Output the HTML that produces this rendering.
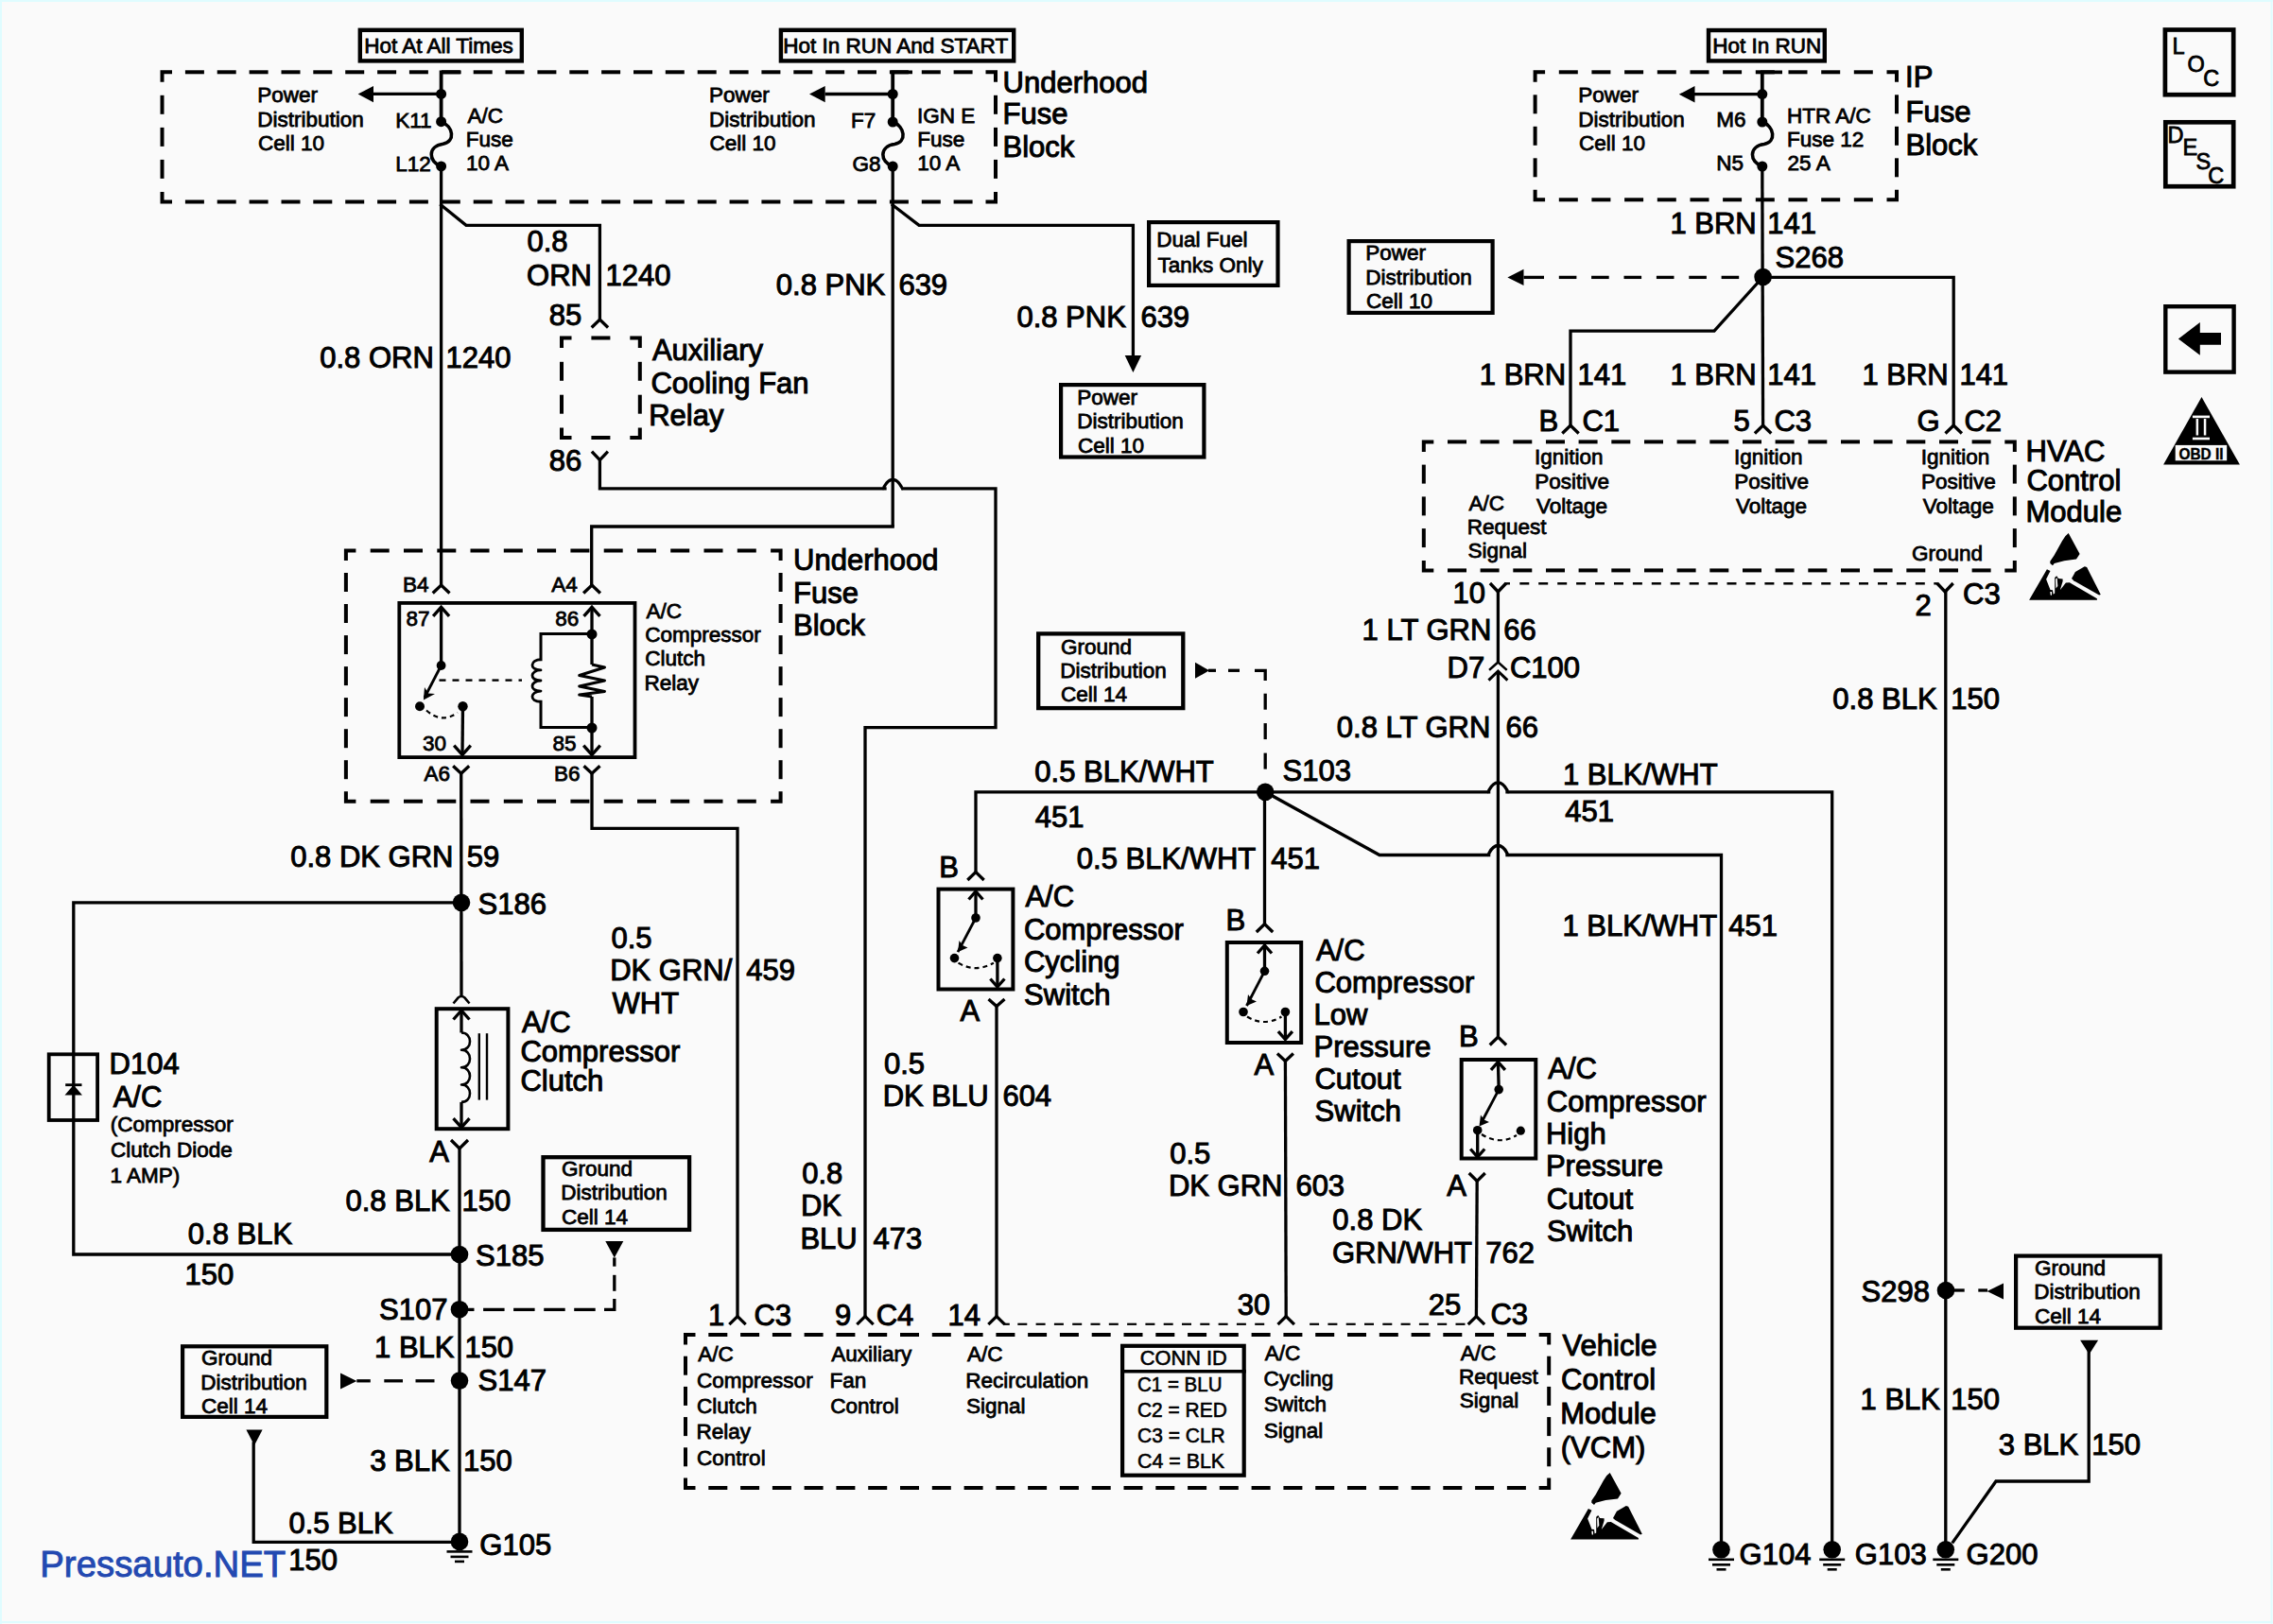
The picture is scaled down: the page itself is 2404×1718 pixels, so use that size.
<!DOCTYPE html>
<html><head><meta charset="utf-8"><style>
html,body{margin:0;padding:0;background:#fafafa;}
svg{display:block;}
</style></head><body>
<svg width="2404" height="1718" viewBox="0 0 2404 1718">
<rect x="0" y="0" width="2404" height="1718" fill="#fafafa"/>
<g stroke="#000" fill="#000" font-family="'Liberation Sans', sans-serif">
<g>
<rect x="380.8" y="31.8" width="171" height="32.6" fill="none" stroke-width="4.4"/>
<text x="385.2" y="56" font-size="22.5" text-anchor="start" stroke="#000" stroke-width="0.8">Hot At All Times</text>
<rect x="825.9" y="31.8" width="246.3" height="32.6" fill="none" stroke-width="4.4"/>
<text x="828.2" y="56" font-size="22.5" text-anchor="start" stroke="#000" stroke-width="0.8">Hot In RUN And START</text>
<rect x="1807" y="32" width="122.8" height="32.4" fill="none" stroke-width="4.4"/>
<text x="1811.2" y="56" font-size="22.5" text-anchor="start" stroke="#000" stroke-width="0.8">Hot In RUN</text>
<polyline points="182,76.3 171.5,76.3 171.5,86.8" fill="none" stroke-width="4" stroke-linecap="butt" stroke-linejoin="miter"/>
<polyline points="1042.5,76.3 1053,76.3 1053,86.8" fill="none" stroke-width="4" stroke-linecap="butt" stroke-linejoin="miter"/>
<polyline points="1042.5,213.5 1053,213.5 1053,203" fill="none" stroke-width="4" stroke-linecap="butt" stroke-linejoin="miter"/>
<polyline points="182,213.5 171.5,213.5 171.5,203" fill="none" stroke-width="4" stroke-linecap="butt" stroke-linejoin="miter"/>
<line x1="195.9" y1="76.3" x2="215.9" y2="76.3" stroke-width="4" stroke-linecap="butt"/>
<line x1="229.7" y1="76.3" x2="249.7" y2="76.3" stroke-width="4" stroke-linecap="butt"/>
<line x1="263.6" y1="76.3" x2="283.6" y2="76.3" stroke-width="4" stroke-linecap="butt"/>
<line x1="297.5" y1="76.3" x2="317.5" y2="76.3" stroke-width="4" stroke-linecap="butt"/>
<line x1="331.3" y1="76.3" x2="351.3" y2="76.3" stroke-width="4" stroke-linecap="butt"/>
<line x1="365.2" y1="76.3" x2="385.2" y2="76.3" stroke-width="4" stroke-linecap="butt"/>
<line x1="399.1" y1="76.3" x2="419.1" y2="76.3" stroke-width="4" stroke-linecap="butt"/>
<line x1="432.9" y1="76.3" x2="452.9" y2="76.3" stroke-width="4" stroke-linecap="butt"/>
<line x1="466.8" y1="76.3" x2="486.8" y2="76.3" stroke-width="4" stroke-linecap="butt"/>
<line x1="500.7" y1="76.3" x2="520.7" y2="76.3" stroke-width="4" stroke-linecap="butt"/>
<line x1="534.5" y1="76.3" x2="554.5" y2="76.3" stroke-width="4" stroke-linecap="butt"/>
<line x1="568.4" y1="76.3" x2="588.4" y2="76.3" stroke-width="4" stroke-linecap="butt"/>
<line x1="602.3" y1="76.3" x2="622.3" y2="76.3" stroke-width="4" stroke-linecap="butt"/>
<line x1="636.1" y1="76.3" x2="656.1" y2="76.3" stroke-width="4" stroke-linecap="butt"/>
<line x1="670" y1="76.3" x2="690" y2="76.3" stroke-width="4" stroke-linecap="butt"/>
<line x1="703.8" y1="76.3" x2="723.8" y2="76.3" stroke-width="4" stroke-linecap="butt"/>
<line x1="737.7" y1="76.3" x2="757.7" y2="76.3" stroke-width="4" stroke-linecap="butt"/>
<line x1="771.6" y1="76.3" x2="791.6" y2="76.3" stroke-width="4" stroke-linecap="butt"/>
<line x1="805.4" y1="76.3" x2="825.4" y2="76.3" stroke-width="4" stroke-linecap="butt"/>
<line x1="839.3" y1="76.3" x2="859.3" y2="76.3" stroke-width="4" stroke-linecap="butt"/>
<line x1="873.2" y1="76.3" x2="893.2" y2="76.3" stroke-width="4" stroke-linecap="butt"/>
<line x1="907" y1="76.3" x2="927" y2="76.3" stroke-width="4" stroke-linecap="butt"/>
<line x1="940.9" y1="76.3" x2="960.9" y2="76.3" stroke-width="4" stroke-linecap="butt"/>
<line x1="974.8" y1="76.3" x2="994.8" y2="76.3" stroke-width="4" stroke-linecap="butt"/>
<line x1="1008.6" y1="76.3" x2="1028.6" y2="76.3" stroke-width="4" stroke-linecap="butt"/>
<line x1="195.9" y1="213.5" x2="215.9" y2="213.5" stroke-width="4" stroke-linecap="butt"/>
<line x1="229.7" y1="213.5" x2="249.7" y2="213.5" stroke-width="4" stroke-linecap="butt"/>
<line x1="263.6" y1="213.5" x2="283.6" y2="213.5" stroke-width="4" stroke-linecap="butt"/>
<line x1="297.5" y1="213.5" x2="317.5" y2="213.5" stroke-width="4" stroke-linecap="butt"/>
<line x1="331.3" y1="213.5" x2="351.3" y2="213.5" stroke-width="4" stroke-linecap="butt"/>
<line x1="365.2" y1="213.5" x2="385.2" y2="213.5" stroke-width="4" stroke-linecap="butt"/>
<line x1="399.1" y1="213.5" x2="419.1" y2="213.5" stroke-width="4" stroke-linecap="butt"/>
<line x1="432.9" y1="213.5" x2="452.9" y2="213.5" stroke-width="4" stroke-linecap="butt"/>
<line x1="466.8" y1="213.5" x2="486.8" y2="213.5" stroke-width="4" stroke-linecap="butt"/>
<line x1="500.7" y1="213.5" x2="520.7" y2="213.5" stroke-width="4" stroke-linecap="butt"/>
<line x1="534.5" y1="213.5" x2="554.5" y2="213.5" stroke-width="4" stroke-linecap="butt"/>
<line x1="568.4" y1="213.5" x2="588.4" y2="213.5" stroke-width="4" stroke-linecap="butt"/>
<line x1="602.3" y1="213.5" x2="622.3" y2="213.5" stroke-width="4" stroke-linecap="butt"/>
<line x1="636.1" y1="213.5" x2="656.1" y2="213.5" stroke-width="4" stroke-linecap="butt"/>
<line x1="670" y1="213.5" x2="690" y2="213.5" stroke-width="4" stroke-linecap="butt"/>
<line x1="703.8" y1="213.5" x2="723.8" y2="213.5" stroke-width="4" stroke-linecap="butt"/>
<line x1="737.7" y1="213.5" x2="757.7" y2="213.5" stroke-width="4" stroke-linecap="butt"/>
<line x1="771.6" y1="213.5" x2="791.6" y2="213.5" stroke-width="4" stroke-linecap="butt"/>
<line x1="805.4" y1="213.5" x2="825.4" y2="213.5" stroke-width="4" stroke-linecap="butt"/>
<line x1="839.3" y1="213.5" x2="859.3" y2="213.5" stroke-width="4" stroke-linecap="butt"/>
<line x1="873.2" y1="213.5" x2="893.2" y2="213.5" stroke-width="4" stroke-linecap="butt"/>
<line x1="907" y1="213.5" x2="927" y2="213.5" stroke-width="4" stroke-linecap="butt"/>
<line x1="940.9" y1="213.5" x2="960.9" y2="213.5" stroke-width="4" stroke-linecap="butt"/>
<line x1="974.8" y1="213.5" x2="994.8" y2="213.5" stroke-width="4" stroke-linecap="butt"/>
<line x1="1008.6" y1="213.5" x2="1028.6" y2="213.5" stroke-width="4" stroke-linecap="butt"/>
<line x1="171.5" y1="100.8" x2="171.5" y2="120.8" stroke-width="4" stroke-linecap="butt"/>
<line x1="171.5" y1="134.9" x2="171.5" y2="154.9" stroke-width="4" stroke-linecap="butt"/>
<line x1="171.5" y1="168.9" x2="171.5" y2="188.9" stroke-width="4" stroke-linecap="butt"/>
<line x1="1053" y1="100.8" x2="1053" y2="120.8" stroke-width="4" stroke-linecap="butt"/>
<line x1="1053" y1="134.9" x2="1053" y2="154.9" stroke-width="4" stroke-linecap="butt"/>
<line x1="1053" y1="168.9" x2="1053" y2="188.9" stroke-width="4" stroke-linecap="butt"/>
<polyline points="487.6,76.3 466.6,76.3 466.6,128.7" fill="none" stroke-width="3.8" stroke-linecap="butt" stroke-linejoin="miter"/>
<line x1="395" y1="99.4" x2="466.6" y2="99.4" stroke-width="3.3" stroke-linecap="butt"/>
<path d="M378.6,99.6 L395,90.9 L395,108.3 Z" fill="#000" stroke="none"/>
<circle cx="466.6" cy="99.4" r="5.5" fill="#000" stroke="none"/>
<circle cx="466.6" cy="128.7" r="5.5" fill="#000" stroke="none"/>
<path d="M466.6,128.7 C479.7,133.4 481.8,149.9 468.6,152.3 C452.1,154.7 452.8,171.2 466.6,175.9" fill="none" stroke-width="3.6" stroke-linecap="butt" stroke-linejoin="round"/>
<circle cx="466.6" cy="175.9" r="5.5" fill="#000" stroke="none"/>
<text x="272.2" y="108" font-size="22.5" text-anchor="start" stroke="#000" stroke-width="0.8">Power</text>
<text x="272.2" y="133.6" font-size="22.5" text-anchor="start" stroke="#000" stroke-width="0.8">Distribution</text>
<text x="272.9" y="159.2" font-size="22.5" text-anchor="start" stroke="#000" stroke-width="0.8">Cell 10</text>
<text x="418.2" y="134.5" font-size="22.5" text-anchor="start" stroke="#000" stroke-width="0.8">K11</text>
<text x="418.2" y="180.5" font-size="22.5" text-anchor="start" stroke="#000" stroke-width="0.8">L12</text>
<text x="494.6" y="129.7" font-size="22.5" text-anchor="start" stroke="#000" stroke-width="0.8">A/C</text>
<text x="492.8" y="154.9" font-size="22.5" text-anchor="start" stroke="#000" stroke-width="0.8">Fuse</text>
<text x="492.9" y="180.1" font-size="22.5" text-anchor="start" stroke="#000" stroke-width="0.8">10 A</text>
<polyline points="965,76.3 944.2,76.3 944.2,129" fill="none" stroke-width="3.8" stroke-linecap="butt" stroke-linejoin="miter"/>
<line x1="872.7" y1="99.5" x2="944.2" y2="99.5" stroke-width="3.3" stroke-linecap="butt"/>
<path d="M856,99.6 L872.7,90.9 L872.7,108.3 Z" fill="#000" stroke="none"/>
<circle cx="944.2" cy="99.5" r="5.5" fill="#000" stroke="none"/>
<circle cx="944.2" cy="129" r="5.5" fill="#000" stroke="none"/>
<path d="M944.2,129 C957.2,133.7 959.4,150.2 946.2,152.5 C929.7,154.8 930.4,171.3 944.2,176" fill="none" stroke-width="3.6" stroke-linecap="butt" stroke-linejoin="round"/>
<circle cx="944.2" cy="176" r="5.5" fill="#000" stroke="none"/>
<text x="749.9" y="108" font-size="22.5" text-anchor="start" stroke="#000" stroke-width="0.8">Power</text>
<text x="749.9" y="133.6" font-size="22.5" text-anchor="start" stroke="#000" stroke-width="0.8">Distribution</text>
<text x="750.6" y="159.2" font-size="22.5" text-anchor="start" stroke="#000" stroke-width="0.8">Cell 10</text>
<text x="900" y="134.5" font-size="22.5" text-anchor="start" stroke="#000" stroke-width="0.8">F7</text>
<text x="901.5" y="180.5" font-size="22.5" text-anchor="start" stroke="#000" stroke-width="0.8">G8</text>
<text x="969.9" y="130" font-size="22.5" text-anchor="start" stroke="#000" stroke-width="0.8">IGN E</text>
<text x="970.2" y="155" font-size="22.5" text-anchor="start" stroke="#000" stroke-width="0.8">Fuse</text>
<text x="970.3" y="180" font-size="22.5" text-anchor="start" stroke="#000" stroke-width="0.8">10 A</text>
<text x="1060.6" y="98" font-size="31" text-anchor="start" stroke="#000" stroke-width="1.0">Underhood</text>
<text x="1060.5" y="131" font-size="31" text-anchor="start" stroke="#000" stroke-width="1.0">Fuse</text>
<text x="1060.5" y="166" font-size="31" text-anchor="start" stroke="#000" stroke-width="1.0">Block</text>
<polyline points="1634.1,76.3 1623.6,76.3 1623.6,86.8" fill="none" stroke-width="4" stroke-linecap="butt" stroke-linejoin="miter"/>
<polyline points="1995.5,76.3 2006,76.3 2006,86.8" fill="none" stroke-width="4" stroke-linecap="butt" stroke-linejoin="miter"/>
<polyline points="1995.5,211.3 2006,211.3 2006,200.8" fill="none" stroke-width="4" stroke-linecap="butt" stroke-linejoin="miter"/>
<polyline points="1634.1,211.3 1623.6,211.3 1623.6,200.8" fill="none" stroke-width="4" stroke-linecap="butt" stroke-linejoin="miter"/>
<line x1="1648.8" y1="76.3" x2="1668.8" y2="76.3" stroke-width="4" stroke-linecap="butt"/>
<line x1="1683.4" y1="76.3" x2="1703.4" y2="76.3" stroke-width="4" stroke-linecap="butt"/>
<line x1="1718.1" y1="76.3" x2="1738.1" y2="76.3" stroke-width="4" stroke-linecap="butt"/>
<line x1="1752.8" y1="76.3" x2="1772.8" y2="76.3" stroke-width="4" stroke-linecap="butt"/>
<line x1="1787.5" y1="76.3" x2="1807.5" y2="76.3" stroke-width="4" stroke-linecap="butt"/>
<line x1="1822.1" y1="76.3" x2="1842.1" y2="76.3" stroke-width="4" stroke-linecap="butt"/>
<line x1="1856.8" y1="76.3" x2="1876.8" y2="76.3" stroke-width="4" stroke-linecap="butt"/>
<line x1="1891.5" y1="76.3" x2="1911.5" y2="76.3" stroke-width="4" stroke-linecap="butt"/>
<line x1="1926.2" y1="76.3" x2="1946.2" y2="76.3" stroke-width="4" stroke-linecap="butt"/>
<line x1="1960.8" y1="76.3" x2="1980.8" y2="76.3" stroke-width="4" stroke-linecap="butt"/>
<line x1="1648.8" y1="211.3" x2="1668.8" y2="211.3" stroke-width="4" stroke-linecap="butt"/>
<line x1="1683.4" y1="211.3" x2="1703.4" y2="211.3" stroke-width="4" stroke-linecap="butt"/>
<line x1="1718.1" y1="211.3" x2="1738.1" y2="211.3" stroke-width="4" stroke-linecap="butt"/>
<line x1="1752.8" y1="211.3" x2="1772.8" y2="211.3" stroke-width="4" stroke-linecap="butt"/>
<line x1="1787.5" y1="211.3" x2="1807.5" y2="211.3" stroke-width="4" stroke-linecap="butt"/>
<line x1="1822.1" y1="211.3" x2="1842.1" y2="211.3" stroke-width="4" stroke-linecap="butt"/>
<line x1="1856.8" y1="211.3" x2="1876.8" y2="211.3" stroke-width="4" stroke-linecap="butt"/>
<line x1="1891.5" y1="211.3" x2="1911.5" y2="211.3" stroke-width="4" stroke-linecap="butt"/>
<line x1="1926.2" y1="211.3" x2="1946.2" y2="211.3" stroke-width="4" stroke-linecap="butt"/>
<line x1="1960.8" y1="211.3" x2="1980.8" y2="211.3" stroke-width="4" stroke-linecap="butt"/>
<line x1="1623.6" y1="100.3" x2="1623.6" y2="120.3" stroke-width="4" stroke-linecap="butt"/>
<line x1="1623.6" y1="133.8" x2="1623.6" y2="153.8" stroke-width="4" stroke-linecap="butt"/>
<line x1="1623.6" y1="167.3" x2="1623.6" y2="187.3" stroke-width="4" stroke-linecap="butt"/>
<line x1="2006" y1="100.3" x2="2006" y2="120.3" stroke-width="4" stroke-linecap="butt"/>
<line x1="2006" y1="133.8" x2="2006" y2="153.8" stroke-width="4" stroke-linecap="butt"/>
<line x1="2006" y1="167.3" x2="2006" y2="187.3" stroke-width="4" stroke-linecap="butt"/>
<polyline points="1885,76.3 1863.8,76.3 1863.8,129" fill="none" stroke-width="3.8" stroke-linecap="butt" stroke-linejoin="miter"/>
<line x1="1792" y1="99.6" x2="1863.8" y2="99.6" stroke-width="3.3" stroke-linecap="butt"/>
<path d="M1775.8,99.8 L1792.5,91.1 L1792.5,108.5 Z" fill="#000" stroke="none"/>
<circle cx="1863.8" cy="99.6" r="5.5" fill="#000" stroke="none"/>
<circle cx="1863.8" cy="129" r="5.5" fill="#000" stroke="none"/>
<path d="M1863.8,129 C1876.8,133.7 1879,150.2 1865.8,152.5 C1849.3,154.8 1850,171.3 1863.8,176" fill="none" stroke-width="3.6" stroke-linecap="butt" stroke-linejoin="round"/>
<circle cx="1863.8" cy="176" r="5.5" fill="#000" stroke="none"/>
<text x="1669.2" y="108" font-size="22.5" text-anchor="start" stroke="#000" stroke-width="0.8">Power</text>
<text x="1669.2" y="133.6" font-size="22.5" text-anchor="start" stroke="#000" stroke-width="0.8">Distribution</text>
<text x="1669.9" y="159.2" font-size="22.5" text-anchor="start" stroke="#000" stroke-width="0.8">Cell 10</text>
<text x="1815.2" y="134" font-size="22.5" text-anchor="start" stroke="#000" stroke-width="0.8">M6</text>
<text x="1815.2" y="180" font-size="22.5" text-anchor="start" stroke="#000" stroke-width="0.8">N5</text>
<text x="1889.9" y="130" font-size="22.5" text-anchor="start" stroke="#000" stroke-width="0.8">HTR A/C</text>
<text x="1889.9" y="155" font-size="22.5" text-anchor="start" stroke="#000" stroke-width="0.8">Fuse 12</text>
<text x="1890.6" y="180" font-size="22.5" text-anchor="start" stroke="#000" stroke-width="0.8">25 A</text>
<text x="2015.1" y="91.7" font-size="31" text-anchor="start" stroke="#000" stroke-width="1.0">IP</text>
<text x="2015.5" y="129" font-size="31" text-anchor="start" stroke="#000" stroke-width="1.0">Fuse</text>
<text x="2015.5" y="164" font-size="31" text-anchor="start" stroke="#000" stroke-width="1.0">Block</text>
<rect x="2289.9" y="31.5" width="72.3" height="68.7" fill="none" stroke-width="4.7"/>
<text x="2297.6" y="56.5" font-size="23.5" text-anchor="start" stroke="#000" stroke-width="0.8">L</text>
<text x="2313.4" y="75.6" font-size="23.5" text-anchor="start" stroke="#000" stroke-width="0.8">O</text>
<text x="2330.3" y="90.8" font-size="23.5" text-anchor="start" stroke="#000" stroke-width="0.8">C</text>
<rect x="2290.3" y="129.3" width="71.9" height="67.9" fill="none" stroke-width="4.7"/>
<text x="2292.6" y="150.8" font-size="23.5" text-anchor="start" stroke="#000" stroke-width="0.8">D</text>
<text x="2308.6" y="163.7" font-size="23.5" text-anchor="start" stroke="#000" stroke-width="0.8">E</text>
<text x="2322.4" y="178.6" font-size="23.5" text-anchor="start" stroke="#000" stroke-width="0.8">S</text>
<text x="2335.3" y="194.4" font-size="23.5" text-anchor="start" stroke="#000" stroke-width="0.8">C</text>
<rect x="2290.3" y="324.2" width="72.3" height="69.4" fill="none" stroke-width="4.4"/>
<path d="M2303.9,358.6 L2326.8,341 L2326.8,352.1 L2349,352.1 L2349,364.8 L2326.8,364.8 L2326.8,375.8 Z" fill="#000" stroke="none"/>
<path d="M2328.5,420 L2368.9,491.4 L2288.1,491.4 Z" fill="#000" stroke="none"/>
<g fill="#fafafa" stroke="none"><rect x="2318.9" y="439.6" width="18.1" height="2.6"/><rect x="2318.9" y="462.7" width="18.1" height="2.6"/><rect x="2322.6" y="443" width="2.5" height="17.5"/><rect x="2330.8" y="443" width="2.5" height="17.5"/><rect x="2300.7" y="470.9" width="54.5" height="16.4"/></g>
<text x="2328" y="485.5" font-size="16.5" text-anchor="middle" font-weight="bold" stroke="#000" stroke-width="0.4" textLength="47" lengthAdjust="spacingAndGlyphs">OBD II</text>
<line x1="466.6" y1="175.9" x2="466.6" y2="619" stroke-width="3.3" stroke-linecap="butt"/>
<polyline points="466.6,217 493,238.3 634.4,238.3 634.4,338" fill="none" stroke-width="3.3" stroke-linecap="square" stroke-linejoin="miter"/>
<text x="557.4" y="266" font-size="31" text-anchor="start" stroke="#000" stroke-width="1.0">0.8</text>
<text x="557.1" y="302" font-size="31" text-anchor="start" stroke="#000" stroke-width="1.0">ORN</text>
<text x="640.6" y="302" font-size="31" text-anchor="start" stroke="#000" stroke-width="1.0">1240</text>
<text x="580.7" y="344" font-size="31" text-anchor="start" stroke="#000" stroke-width="1.0">85</text>
<polyline points="625.7,346.5 634.4,338 643.1,346.5" fill="none" stroke-width="3.3" stroke-linecap="butt" stroke-linejoin="miter"/>
<text x="338.2" y="389" font-size="31" text-anchor="start" stroke="#000" stroke-width="1.0">0.8 ORN</text>
<text x="471.6" y="389" font-size="31" text-anchor="start" stroke="#000" stroke-width="1.0">1240</text>
<polyline points="604.5,357.5 594,357.5 594,368" fill="none" stroke-width="4" stroke-linecap="butt" stroke-linejoin="miter"/>
<polyline points="666.3,357.5 676.8,357.5 676.8,368" fill="none" stroke-width="4" stroke-linecap="butt" stroke-linejoin="miter"/>
<polyline points="666.3,463 676.8,463 676.8,452.5" fill="none" stroke-width="4" stroke-linecap="butt" stroke-linejoin="miter"/>
<polyline points="604.5,463 594,463 594,452.5" fill="none" stroke-width="4" stroke-linecap="butt" stroke-linejoin="miter"/>
<line x1="625.4" y1="357.5" x2="645.4" y2="357.5" stroke-width="4" stroke-linecap="butt"/>
<line x1="625.4" y1="463" x2="645.4" y2="463" stroke-width="4" stroke-linecap="butt"/>
<line x1="594" y1="382.8" x2="594" y2="402.8" stroke-width="4" stroke-linecap="butt"/>
<line x1="594" y1="417.7" x2="594" y2="437.7" stroke-width="4" stroke-linecap="butt"/>
<line x1="676.8" y1="382.8" x2="676.8" y2="402.8" stroke-width="4" stroke-linecap="butt"/>
<line x1="676.8" y1="417.7" x2="676.8" y2="437.7" stroke-width="4" stroke-linecap="butt"/>
<text x="689.9" y="381" font-size="31" text-anchor="start" stroke="#000" stroke-width="1.0">Auxiliary</text>
<text x="688.4" y="415.7" font-size="31" text-anchor="start" stroke="#000" stroke-width="1.0">Cooling Fan</text>
<text x="686.2" y="449.9" font-size="31" text-anchor="start" stroke="#000" stroke-width="1.0">Relay</text>
<text x="580.7" y="497.5" font-size="31" text-anchor="start" stroke="#000" stroke-width="1.0">86</text>
<polyline points="625.9,477.7 634.4,486.7 642.9,477.7" fill="none" stroke-width="3.3" stroke-linecap="butt" stroke-linejoin="miter"/>
<polyline points="634.4,486.7 634.4,516.8 936,516.8" fill="none" stroke-width="3.3" stroke-linecap="square" stroke-linejoin="miter"/>
<path d="M933.7,516.8 C935.2,516.8 937,507.3 944.2,507.3 C951.4,507.3 953.2,516.8 954.7,516.8" fill="none" stroke-width="3.3" stroke-linecap="butt" stroke-linejoin="round"/>
<polyline points="954.8,516.8 1053,516.8 1053,769.7 915,769.7 915,1392.6" fill="none" stroke-width="3.3" stroke-linecap="square" stroke-linejoin="miter"/>
<line x1="944.2" y1="176" x2="944.2" y2="557" stroke-width="3.3" stroke-linecap="butt"/>
<polyline points="944.2,557 625.7,557 625.7,619" fill="none" stroke-width="3.3" stroke-linecap="square" stroke-linejoin="miter"/>
<polyline points="944.2,217 972,238.3 1198.4,238.3 1198.4,380" fill="none" stroke-width="3.3" stroke-linecap="square" stroke-linejoin="miter"/>
<path d="M1198.4,394 L1189.7,376 L1207.1,376 Z" fill="#000" stroke="none"/>
<text x="820.8" y="312.4" font-size="31" text-anchor="start" stroke="#000" stroke-width="1.0">0.8 PNK</text>
<text x="950.4" y="312.4" font-size="31" text-anchor="start" stroke="#000" stroke-width="1.0">639</text>
<text x="1075.4" y="345.5" font-size="31" text-anchor="start" stroke="#000" stroke-width="1.0">0.8 PNK</text>
<text x="1206.4" y="345.5" font-size="31" text-anchor="start" stroke="#000" stroke-width="1.0">639</text>
<rect x="1215.1" y="235.1" width="136.4" height="66.8" fill="none" stroke-width="4.2"/>
<text x="1223.2" y="261" font-size="22.5" text-anchor="start" stroke="#000" stroke-width="0.8">Dual Fuel</text>
<text x="1224.5" y="288" font-size="22.5" text-anchor="start" stroke="#000" stroke-width="0.8">Tanks Only</text>
<rect x="1122.1" y="407.1" width="151.3" height="76.4" fill="none" stroke-width="4.2"/>
<text x="1139.2" y="428" font-size="22.5" text-anchor="start" stroke="#000" stroke-width="0.8">Power</text>
<text x="1139.2" y="453.3" font-size="22.5" text-anchor="start" stroke="#000" stroke-width="0.8">Distribution</text>
<text x="1139.9" y="478.6" font-size="22.5" text-anchor="start" stroke="#000" stroke-width="0.8">Cell 10</text>
<line x1="1863.8" y1="176" x2="1864.6" y2="450" stroke-width="3.3" stroke-linecap="butt"/>
<text x="1766.4" y="247.2" font-size="31" text-anchor="start" stroke="#000" stroke-width="1.0">1 BRN</text>
<text x="1869.3" y="247.2" font-size="31" text-anchor="start" stroke="#000" stroke-width="1.0">141</text>
<text x="1877.5" y="283" font-size="31" text-anchor="start" stroke="#000" stroke-width="1.0">S268</text>
<circle cx="1864.6" cy="293" r="9.3" fill="#000" stroke="none"/>
<line x1="1611.5" y1="293.4" x2="1633" y2="293.4" stroke-width="3.3" stroke-linecap="butt"/>
<path d="M1594.4,293.4 L1611.5,284.7 L1611.5,302.1 Z" fill="#000" stroke="none"/>
<line x1="1648.8" y1="293.4" x2="1667.4" y2="293.4" stroke-width="3.3" stroke-linecap="butt"/>
<line x1="1683.1" y1="293.4" x2="1701.7" y2="293.4" stroke-width="3.3" stroke-linecap="butt"/>
<line x1="1717.5" y1="293.4" x2="1736.1" y2="293.4" stroke-width="3.3" stroke-linecap="butt"/>
<line x1="1751.9" y1="293.4" x2="1770.5" y2="293.4" stroke-width="3.3" stroke-linecap="butt"/>
<line x1="1786.3" y1="293.4" x2="1804.9" y2="293.4" stroke-width="3.3" stroke-linecap="butt"/>
<line x1="1820.6" y1="293.4" x2="1839.2" y2="293.4" stroke-width="3.3" stroke-linecap="butt"/>
<rect x="1426.6" y="255.1" width="152" height="75.8" fill="none" stroke-width="4.2"/>
<text x="1444.2" y="275" font-size="22.5" text-anchor="start" stroke="#000" stroke-width="0.8">Power</text>
<text x="1444.2" y="300.5" font-size="22.5" text-anchor="start" stroke="#000" stroke-width="0.8">Distribution</text>
<text x="1444.9" y="326" font-size="22.5" text-anchor="start" stroke="#000" stroke-width="0.8">Cell 10</text>
<polyline points="1864.6,293 1813,350.1 1661,350.1 1661,450" fill="none" stroke-width="3.3" stroke-linecap="square" stroke-linejoin="miter"/>
<polyline points="1864.6,293.4 2066.2,293.4 2066.2,450" fill="none" stroke-width="3.3" stroke-linecap="square" stroke-linejoin="miter"/>
<text x="1564.8" y="407.3" font-size="31" text-anchor="start" stroke="#000" stroke-width="1.0">1 BRN</text>
<text x="1668.6" y="407.3" font-size="31" text-anchor="start" stroke="#000" stroke-width="1.0">141</text>
<polyline points="1652.3,458.5 1661,450 1669.7,458.5" fill="none" stroke-width="3.3" stroke-linecap="butt" stroke-linejoin="miter"/>
<text x="1766.4" y="407.3" font-size="31" text-anchor="start" stroke="#000" stroke-width="1.0">1 BRN</text>
<text x="1869.3" y="407.3" font-size="31" text-anchor="start" stroke="#000" stroke-width="1.0">141</text>
<polyline points="1855.9,458.5 1864.6,450 1873.3,458.5" fill="none" stroke-width="3.3" stroke-linecap="butt" stroke-linejoin="miter"/>
<text x="1969.4" y="407.3" font-size="31" text-anchor="start" stroke="#000" stroke-width="1.0">1 BRN</text>
<text x="2072.4" y="407.3" font-size="31" text-anchor="start" stroke="#000" stroke-width="1.0">141</text>
<polyline points="2057.5,458.5 2066.2,450 2074.9,458.5" fill="none" stroke-width="3.3" stroke-linecap="butt" stroke-linejoin="miter"/>
<text x="1627.5" y="456" font-size="31" text-anchor="start" stroke="#000" stroke-width="1.0">B</text>
<text x="1673.4" y="456" font-size="31" text-anchor="start" stroke="#000" stroke-width="1.0">C1</text>
<text x="1833.4" y="456" font-size="31" text-anchor="start" stroke="#000" stroke-width="1.0">5</text>
<text x="1876.4" y="456" font-size="31" text-anchor="start" stroke="#000" stroke-width="1.0">C3</text>
<text x="2027.4" y="456" font-size="31" text-anchor="start" stroke="#000" stroke-width="1.0">G</text>
<text x="2077.4" y="456" font-size="31" text-anchor="start" stroke="#000" stroke-width="1.0">C2</text>
<polyline points="1516.3,467.4 1505.8,467.4 1505.8,477.9" fill="none" stroke-width="4" stroke-linecap="butt" stroke-linejoin="miter"/>
<polyline points="2120.3,467.4 2130.8,467.4 2130.8,477.9" fill="none" stroke-width="4" stroke-linecap="butt" stroke-linejoin="miter"/>
<polyline points="2120.3,603.4 2130.8,603.4 2130.8,592.9" fill="none" stroke-width="4" stroke-linecap="butt" stroke-linejoin="miter"/>
<polyline points="1516.3,603.4 1505.8,603.4 1505.8,592.9" fill="none" stroke-width="4" stroke-linecap="butt" stroke-linejoin="miter"/>
<line x1="1531" y1="467.4" x2="1551" y2="467.4" stroke-width="4" stroke-linecap="butt"/>
<line x1="1565.6" y1="467.4" x2="1585.6" y2="467.4" stroke-width="4" stroke-linecap="butt"/>
<line x1="1600.3" y1="467.4" x2="1620.3" y2="467.4" stroke-width="4" stroke-linecap="butt"/>
<line x1="1635" y1="467.4" x2="1655" y2="467.4" stroke-width="4" stroke-linecap="butt"/>
<line x1="1669.6" y1="467.4" x2="1689.6" y2="467.4" stroke-width="4" stroke-linecap="butt"/>
<line x1="1704.3" y1="467.4" x2="1724.3" y2="467.4" stroke-width="4" stroke-linecap="butt"/>
<line x1="1739" y1="467.4" x2="1759" y2="467.4" stroke-width="4" stroke-linecap="butt"/>
<line x1="1773.6" y1="467.4" x2="1793.6" y2="467.4" stroke-width="4" stroke-linecap="butt"/>
<line x1="1808.3" y1="467.4" x2="1828.3" y2="467.4" stroke-width="4" stroke-linecap="butt"/>
<line x1="1843" y1="467.4" x2="1863" y2="467.4" stroke-width="4" stroke-linecap="butt"/>
<line x1="1877.6" y1="467.4" x2="1897.6" y2="467.4" stroke-width="4" stroke-linecap="butt"/>
<line x1="1912.3" y1="467.4" x2="1932.3" y2="467.4" stroke-width="4" stroke-linecap="butt"/>
<line x1="1947" y1="467.4" x2="1967" y2="467.4" stroke-width="4" stroke-linecap="butt"/>
<line x1="1981.6" y1="467.4" x2="2001.6" y2="467.4" stroke-width="4" stroke-linecap="butt"/>
<line x1="2016.3" y1="467.4" x2="2036.3" y2="467.4" stroke-width="4" stroke-linecap="butt"/>
<line x1="2051" y1="467.4" x2="2071" y2="467.4" stroke-width="4" stroke-linecap="butt"/>
<line x1="2085.6" y1="467.4" x2="2105.6" y2="467.4" stroke-width="4" stroke-linecap="butt"/>
<line x1="1531" y1="603.4" x2="1551" y2="603.4" stroke-width="4" stroke-linecap="butt"/>
<line x1="1565.6" y1="603.4" x2="1585.6" y2="603.4" stroke-width="4" stroke-linecap="butt"/>
<line x1="1600.3" y1="603.4" x2="1620.3" y2="603.4" stroke-width="4" stroke-linecap="butt"/>
<line x1="1635" y1="603.4" x2="1655" y2="603.4" stroke-width="4" stroke-linecap="butt"/>
<line x1="1669.6" y1="603.4" x2="1689.6" y2="603.4" stroke-width="4" stroke-linecap="butt"/>
<line x1="1704.3" y1="603.4" x2="1724.3" y2="603.4" stroke-width="4" stroke-linecap="butt"/>
<line x1="1739" y1="603.4" x2="1759" y2="603.4" stroke-width="4" stroke-linecap="butt"/>
<line x1="1773.6" y1="603.4" x2="1793.6" y2="603.4" stroke-width="4" stroke-linecap="butt"/>
<line x1="1808.3" y1="603.4" x2="1828.3" y2="603.4" stroke-width="4" stroke-linecap="butt"/>
<line x1="1843" y1="603.4" x2="1863" y2="603.4" stroke-width="4" stroke-linecap="butt"/>
<line x1="1877.6" y1="603.4" x2="1897.6" y2="603.4" stroke-width="4" stroke-linecap="butt"/>
<line x1="1912.3" y1="603.4" x2="1932.3" y2="603.4" stroke-width="4" stroke-linecap="butt"/>
<line x1="1947" y1="603.4" x2="1967" y2="603.4" stroke-width="4" stroke-linecap="butt"/>
<line x1="1981.6" y1="603.4" x2="2001.6" y2="603.4" stroke-width="4" stroke-linecap="butt"/>
<line x1="2016.3" y1="603.4" x2="2036.3" y2="603.4" stroke-width="4" stroke-linecap="butt"/>
<line x1="2051" y1="603.4" x2="2071" y2="603.4" stroke-width="4" stroke-linecap="butt"/>
<line x1="2085.6" y1="603.4" x2="2105.6" y2="603.4" stroke-width="4" stroke-linecap="butt"/>
<line x1="1505.8" y1="491.6" x2="1505.8" y2="511.6" stroke-width="4" stroke-linecap="butt"/>
<line x1="1505.8" y1="525.4" x2="1505.8" y2="545.4" stroke-width="4" stroke-linecap="butt"/>
<line x1="1505.8" y1="559.1" x2="1505.8" y2="579.1" stroke-width="4" stroke-linecap="butt"/>
<line x1="2130.8" y1="491.6" x2="2130.8" y2="511.6" stroke-width="4" stroke-linecap="butt"/>
<line x1="2130.8" y1="525.4" x2="2130.8" y2="545.4" stroke-width="4" stroke-linecap="butt"/>
<line x1="2130.8" y1="559.1" x2="2130.8" y2="579.1" stroke-width="4" stroke-linecap="butt"/>
<text x="1622.9" y="491" font-size="22.5" text-anchor="start" stroke="#000" stroke-width="0.8">Ignition</text>
<text x="1623.2" y="516.8" font-size="22.5" text-anchor="start" stroke="#000" stroke-width="0.8">Positive</text>
<text x="1624.9" y="542.6" font-size="22.5" text-anchor="start" stroke="#000" stroke-width="0.8">Voltage</text>
<text x="1833.9" y="491" font-size="22.5" text-anchor="start" stroke="#000" stroke-width="0.8">Ignition</text>
<text x="1834.2" y="516.8" font-size="22.5" text-anchor="start" stroke="#000" stroke-width="0.8">Positive</text>
<text x="1835.9" y="542.6" font-size="22.5" text-anchor="start" stroke="#000" stroke-width="0.8">Voltage</text>
<text x="2031.8" y="491" font-size="22.5" text-anchor="start" stroke="#000" stroke-width="0.8">Ignition</text>
<text x="2032.1" y="516.8" font-size="22.5" text-anchor="start" stroke="#000" stroke-width="0.8">Positive</text>
<text x="2033.8" y="542.6" font-size="22.5" text-anchor="start" stroke="#000" stroke-width="0.8">Voltage</text>
<text x="1553.5" y="540" font-size="22.5" text-anchor="start" stroke="#000" stroke-width="0.8">A/C</text>
<text x="1551.7" y="565" font-size="22.5" text-anchor="start" stroke="#000" stroke-width="0.8">Request</text>
<text x="1552.5" y="590" font-size="22.5" text-anchor="start" stroke="#000" stroke-width="0.8">Signal</text>
<text x="2021.9" y="592.6" font-size="22.5" text-anchor="start" stroke="#000" stroke-width="0.8">Ground</text>
<text x="2142.5" y="488" font-size="31" text-anchor="start" stroke="#000" stroke-width="1.0">HVAC</text>
<text x="2143.4" y="519" font-size="31" text-anchor="start" stroke="#000" stroke-width="1.0">Control</text>
<text x="2142.5" y="552" font-size="31" text-anchor="start" stroke="#000" stroke-width="1.0">Module</text>
<polyline points="1575.9,617 1584.4,626 1592.9,617" fill="none" stroke-width="3.3" stroke-linecap="butt" stroke-linejoin="miter"/>
<line x1="1592" y1="617.3" x2="1597" y2="617.3" stroke-width="2.4" stroke-linecap="butt"/>
<line x1="2045.3" y1="617.3" x2="2049.5" y2="617.3" stroke-width="2.4" stroke-linecap="butt"/>
<line x1="1607.3" y1="617.3" x2="1617.3" y2="617.3" stroke-width="2.5" stroke-linecap="butt"/>
<line x1="1627.2" y1="617.3" x2="1637.2" y2="617.3" stroke-width="2.5" stroke-linecap="butt"/>
<line x1="1647.2" y1="617.3" x2="1657.2" y2="617.3" stroke-width="2.5" stroke-linecap="butt"/>
<line x1="1667.1" y1="617.3" x2="1677.1" y2="617.3" stroke-width="2.5" stroke-linecap="butt"/>
<line x1="1687" y1="617.3" x2="1697" y2="617.3" stroke-width="2.5" stroke-linecap="butt"/>
<line x1="1707" y1="617.3" x2="1717" y2="617.3" stroke-width="2.5" stroke-linecap="butt"/>
<line x1="1726.9" y1="617.3" x2="1736.9" y2="617.3" stroke-width="2.5" stroke-linecap="butt"/>
<line x1="1746.8" y1="617.3" x2="1756.8" y2="617.3" stroke-width="2.5" stroke-linecap="butt"/>
<line x1="1766.7" y1="617.3" x2="1776.7" y2="617.3" stroke-width="2.5" stroke-linecap="butt"/>
<line x1="1786.7" y1="617.3" x2="1796.7" y2="617.3" stroke-width="2.5" stroke-linecap="butt"/>
<line x1="1806.6" y1="617.3" x2="1816.6" y2="617.3" stroke-width="2.5" stroke-linecap="butt"/>
<line x1="1826.5" y1="617.3" x2="1836.5" y2="617.3" stroke-width="2.5" stroke-linecap="butt"/>
<line x1="1846.5" y1="617.3" x2="1856.5" y2="617.3" stroke-width="2.5" stroke-linecap="butt"/>
<line x1="1866.4" y1="617.3" x2="1876.4" y2="617.3" stroke-width="2.5" stroke-linecap="butt"/>
<line x1="1886.3" y1="617.3" x2="1896.3" y2="617.3" stroke-width="2.5" stroke-linecap="butt"/>
<line x1="1906.2" y1="617.3" x2="1916.2" y2="617.3" stroke-width="2.5" stroke-linecap="butt"/>
<line x1="1926.2" y1="617.3" x2="1936.2" y2="617.3" stroke-width="2.5" stroke-linecap="butt"/>
<line x1="1946.1" y1="617.3" x2="1956.1" y2="617.3" stroke-width="2.5" stroke-linecap="butt"/>
<line x1="1966" y1="617.3" x2="1976" y2="617.3" stroke-width="2.5" stroke-linecap="butt"/>
<line x1="1986" y1="617.3" x2="1996" y2="617.3" stroke-width="2.5" stroke-linecap="butt"/>
<line x1="2005.9" y1="617.3" x2="2015.9" y2="617.3" stroke-width="2.5" stroke-linecap="butt"/>
<line x1="2025.8" y1="617.3" x2="2035.8" y2="617.3" stroke-width="2.5" stroke-linecap="butt"/>
<polyline points="2048.7,617 2057.2,626 2065.7,617" fill="none" stroke-width="3.3" stroke-linecap="butt" stroke-linejoin="miter"/>
<text x="1536.6" y="637.8" font-size="31" text-anchor="start" stroke="#000" stroke-width="1.0">10</text>
<text x="2025.4" y="650.6" font-size="31" text-anchor="start" stroke="#000" stroke-width="1.0">2</text>
<text x="2076.1" y="638.6" font-size="31" text-anchor="start" stroke="#000" stroke-width="1.0">C3</text>
<line x1="1584.4" y1="626" x2="1584.4" y2="700" stroke-width="3.3" stroke-linecap="butt"/>
<text x="1440.6" y="676.8" font-size="31" text-anchor="start" stroke="#000" stroke-width="1.0">1 LT GRN</text>
<text x="1590.2" y="677" font-size="31" text-anchor="start" stroke="#000" stroke-width="1.0">66</text>
<polyline points="1576,708 1584.4,700.5 1592.8,708" fill="none" stroke-width="2.5" stroke-linecap="square" stroke-linejoin="miter"/>
<polyline points="1575.5,718.6 1584.4,710 1593.3,718.6" fill="none" stroke-width="3" stroke-linecap="square" stroke-linejoin="miter"/>
<text x="1530.5" y="717.3" font-size="31" text-anchor="start" stroke="#000" stroke-width="1.0">D7</text>
<text x="1596.9" y="717" font-size="31" text-anchor="start" stroke="#000" stroke-width="1.0">C100</text>
<line x1="1584.4" y1="710" x2="1584.4" y2="1097" stroke-width="3.3" stroke-linecap="butt"/>
<text x="1413.8" y="780" font-size="31" text-anchor="start" stroke="#000" stroke-width="1.0">0.8 LT GRN</text>
<text x="1592.4" y="780" font-size="31" text-anchor="start" stroke="#000" stroke-width="1.0">66</text>
<line x1="2057.8" y1="626" x2="2057.8" y2="1639" stroke-width="3.3" stroke-linecap="butt"/>
<text x="1938.3" y="750" font-size="31" text-anchor="start" stroke="#000" stroke-width="1.0">0.8 BLK</text>
<text x="2063.3" y="750" font-size="31" text-anchor="start" stroke="#000" stroke-width="1.0">150</text>
<polyline points="376.4,582.5 365.9,582.5 365.9,593" fill="none" stroke-width="4" stroke-linecap="butt" stroke-linejoin="miter"/>
<polyline points="815.1,582.5 825.6,582.5 825.6,593" fill="none" stroke-width="4" stroke-linecap="butt" stroke-linejoin="miter"/>
<polyline points="815.1,847.7 825.6,847.7 825.6,837.2" fill="none" stroke-width="4" stroke-linecap="butt" stroke-linejoin="miter"/>
<polyline points="376.4,847.7 365.9,847.7 365.9,837.2" fill="none" stroke-width="4" stroke-linecap="butt" stroke-linejoin="miter"/>
<line x1="391.7" y1="582.5" x2="411.7" y2="582.5" stroke-width="4" stroke-linecap="butt"/>
<line x1="427" y1="582.5" x2="447" y2="582.5" stroke-width="4" stroke-linecap="butt"/>
<line x1="462.3" y1="582.5" x2="482.3" y2="582.5" stroke-width="4" stroke-linecap="butt"/>
<line x1="497.5" y1="582.5" x2="517.5" y2="582.5" stroke-width="4" stroke-linecap="butt"/>
<line x1="532.8" y1="582.5" x2="552.8" y2="582.5" stroke-width="4" stroke-linecap="butt"/>
<line x1="568.1" y1="582.5" x2="588.1" y2="582.5" stroke-width="4" stroke-linecap="butt"/>
<line x1="603.4" y1="582.5" x2="623.4" y2="582.5" stroke-width="4" stroke-linecap="butt"/>
<line x1="638.7" y1="582.5" x2="658.7" y2="582.5" stroke-width="4" stroke-linecap="butt"/>
<line x1="674" y1="582.5" x2="694" y2="582.5" stroke-width="4" stroke-linecap="butt"/>
<line x1="709.2" y1="582.5" x2="729.2" y2="582.5" stroke-width="4" stroke-linecap="butt"/>
<line x1="744.5" y1="582.5" x2="764.5" y2="582.5" stroke-width="4" stroke-linecap="butt"/>
<line x1="779.8" y1="582.5" x2="799.8" y2="582.5" stroke-width="4" stroke-linecap="butt"/>
<line x1="391.7" y1="847.7" x2="411.7" y2="847.7" stroke-width="4" stroke-linecap="butt"/>
<line x1="427" y1="847.7" x2="447" y2="847.7" stroke-width="4" stroke-linecap="butt"/>
<line x1="462.3" y1="847.7" x2="482.3" y2="847.7" stroke-width="4" stroke-linecap="butt"/>
<line x1="497.5" y1="847.7" x2="517.5" y2="847.7" stroke-width="4" stroke-linecap="butt"/>
<line x1="532.8" y1="847.7" x2="552.8" y2="847.7" stroke-width="4" stroke-linecap="butt"/>
<line x1="568.1" y1="847.7" x2="588.1" y2="847.7" stroke-width="4" stroke-linecap="butt"/>
<line x1="603.4" y1="847.7" x2="623.4" y2="847.7" stroke-width="4" stroke-linecap="butt"/>
<line x1="638.7" y1="847.7" x2="658.7" y2="847.7" stroke-width="4" stroke-linecap="butt"/>
<line x1="674" y1="847.7" x2="694" y2="847.7" stroke-width="4" stroke-linecap="butt"/>
<line x1="709.2" y1="847.7" x2="729.2" y2="847.7" stroke-width="4" stroke-linecap="butt"/>
<line x1="744.5" y1="847.7" x2="764.5" y2="847.7" stroke-width="4" stroke-linecap="butt"/>
<line x1="779.8" y1="847.7" x2="799.8" y2="847.7" stroke-width="4" stroke-linecap="butt"/>
<line x1="365.9" y1="606" x2="365.9" y2="626" stroke-width="4" stroke-linecap="butt"/>
<line x1="365.9" y1="639" x2="365.9" y2="659" stroke-width="4" stroke-linecap="butt"/>
<line x1="365.9" y1="672.1" x2="365.9" y2="692.1" stroke-width="4" stroke-linecap="butt"/>
<line x1="365.9" y1="705.1" x2="365.9" y2="725.1" stroke-width="4" stroke-linecap="butt"/>
<line x1="365.9" y1="738.1" x2="365.9" y2="758.1" stroke-width="4" stroke-linecap="butt"/>
<line x1="365.9" y1="771.2" x2="365.9" y2="791.2" stroke-width="4" stroke-linecap="butt"/>
<line x1="365.9" y1="804.2" x2="365.9" y2="824.2" stroke-width="4" stroke-linecap="butt"/>
<line x1="825.6" y1="606" x2="825.6" y2="626" stroke-width="4" stroke-linecap="butt"/>
<line x1="825.6" y1="639" x2="825.6" y2="659" stroke-width="4" stroke-linecap="butt"/>
<line x1="825.6" y1="672.1" x2="825.6" y2="692.1" stroke-width="4" stroke-linecap="butt"/>
<line x1="825.6" y1="705.1" x2="825.6" y2="725.1" stroke-width="4" stroke-linecap="butt"/>
<line x1="825.6" y1="738.1" x2="825.6" y2="758.1" stroke-width="4" stroke-linecap="butt"/>
<line x1="825.6" y1="771.2" x2="825.6" y2="791.2" stroke-width="4" stroke-linecap="butt"/>
<line x1="825.6" y1="804.2" x2="825.6" y2="824.2" stroke-width="4" stroke-linecap="butt"/>
<rect x="422.3" y="637.9" width="249.2" height="163.2" fill="none" stroke-width="3.8"/>
<text x="426.1" y="626.3" font-size="22.5" text-anchor="start" stroke="#000" stroke-width="0.8">B4</text>
<polyline points="457.7,627.5 466.6,619 475.5,627.5" fill="none" stroke-width="3.3" stroke-linecap="butt" stroke-linejoin="miter"/>
<text x="583.2" y="626.3" font-size="22.5" text-anchor="start" stroke="#000" stroke-width="0.8">A4</text>
<polyline points="617.1,627.5 626,619 634.9,627.5" fill="none" stroke-width="3.3" stroke-linecap="butt" stroke-linejoin="miter"/>
<text x="429.5" y="662" font-size="22.5" text-anchor="start" stroke="#000" stroke-width="0.8">87</text>
<text x="587.2" y="662" font-size="22.5" text-anchor="start" stroke="#000" stroke-width="0.8">86</text>
<text x="447" y="793.6" font-size="22.5" text-anchor="start" stroke="#000" stroke-width="0.8">30</text>
<text x="584.4" y="793.6" font-size="22.5" text-anchor="start" stroke="#000" stroke-width="0.8">85</text>
<text x="448.4" y="826.3" font-size="22.5" text-anchor="start" stroke="#000" stroke-width="0.8">A6</text>
<polyline points="479.2,810.2 487.7,818.2 496.2,810.2" fill="none" stroke-width="3.3" stroke-linecap="butt" stroke-linejoin="miter"/>
<text x="585.9" y="826.3" font-size="22.5" text-anchor="start" stroke="#000" stroke-width="0.8">B6</text>
<polyline points="617.5,810.2 626,818.2 634.5,810.2" fill="none" stroke-width="3.3" stroke-linecap="butt" stroke-linejoin="miter"/>
<line x1="466.6" y1="642.3" x2="466.6" y2="704" stroke-width="3.3" stroke-linecap="butt"/>
<polyline points="458.1,651.8 466.6,642.3 475.1,651.8" fill="none" stroke-width="3.3" stroke-linecap="butt" stroke-linejoin="miter"/>
<circle cx="466.6" cy="704" r="4.9" fill="#000" stroke="none"/>
<line x1="466.6" y1="704" x2="449" y2="738" stroke-width="2.8" stroke-linecap="butt"/>
<path d="M447.9,740.5 L449,727 L453,733.5 L460,734 Z" fill="#000" stroke="none"/>
<circle cx="444" cy="747.3" r="5" fill="#000" stroke="none"/>
<circle cx="489.5" cy="747.3" r="5.2" fill="#000" stroke="none"/>
<line x1="489.5" y1="747.3" x2="489" y2="798.6" stroke-width="3.3" stroke-linecap="butt"/>
<polyline points="480.2,788.6 489,798.6 497.8,788.6" fill="none" stroke-width="3.3" stroke-linecap="butt" stroke-linejoin="miter"/>
<path d="M451,751.5 Q467,766 484,754" fill="none" stroke-width="2.2" stroke-linecap="butt" stroke-linejoin="round" stroke-dasharray="5 4"/>
<line x1="464.5" y1="719.6" x2="471.5" y2="719.6" stroke-width="2.4" stroke-linecap="butt"/>
<line x1="478.5" y1="719.6" x2="485.5" y2="719.6" stroke-width="2.4" stroke-linecap="butt"/>
<line x1="492.5" y1="719.6" x2="499.5" y2="719.6" stroke-width="2.4" stroke-linecap="butt"/>
<line x1="506.5" y1="719.6" x2="513.5" y2="719.6" stroke-width="2.4" stroke-linecap="butt"/>
<line x1="520.5" y1="719.6" x2="527.5" y2="719.6" stroke-width="2.4" stroke-linecap="butt"/>
<line x1="534.5" y1="719.6" x2="541.5" y2="719.6" stroke-width="2.4" stroke-linecap="butt"/>
<line x1="548.5" y1="719.6" x2="552" y2="719.6" stroke-width="2.4" stroke-linecap="butt"/>
<polyline points="626,670.4 572,670.4 572,697.7" fill="none" stroke-width="3" stroke-linecap="square" stroke-linejoin="miter"/>
<polyline points="572,742.3 572,769.6 626,769.6" fill="none" stroke-width="3" stroke-linecap="square" stroke-linejoin="miter"/>
<path d="M572,697.7 C561,697.7 559,708.9 572,708.9 C561,708.9 559,720 572,720 C561,720 559,731.1 572,731.1 C561,731.2 559,742.3 572,742.3" fill="none" stroke-width="2.8" stroke-linecap="butt" stroke-linejoin="round"/>
<line x1="626" y1="642.3" x2="626" y2="703" stroke-width="3.3" stroke-linecap="butt"/>
<polyline points="617.5,651.8 626,642.3 634.5,651.8" fill="none" stroke-width="3.3" stroke-linecap="butt" stroke-linejoin="miter"/>
<path d="M626,703 L639.5,706 L612.7,714.5 L639.5,720 L612.7,726 L639.5,731.5 L612.7,735 L626,737" fill="none" stroke-width="3" stroke-linecap="butt" stroke-linejoin="round"/>
<line x1="626" y1="737" x2="626" y2="798.6" stroke-width="3.3" stroke-linecap="butt"/>
<polyline points="617.2,788.6 626,798.6 634.8,788.6" fill="none" stroke-width="3.3" stroke-linecap="butt" stroke-linejoin="miter"/>
<circle cx="626" cy="670.9" r="5.5" fill="#000" stroke="none"/>
<circle cx="626" cy="770" r="5.5" fill="#000" stroke="none"/>
<text x="683.4" y="653.7" font-size="22.5" text-anchor="start" stroke="#000" stroke-width="0.8">A/C</text>
<text x="682.3" y="679" font-size="22.5" text-anchor="start" stroke="#000" stroke-width="0.8">Compressor</text>
<text x="682.3" y="704.3" font-size="22.5" text-anchor="start" stroke="#000" stroke-width="0.8">Clutch</text>
<text x="681.6" y="729.6" font-size="22.5" text-anchor="start" stroke="#000" stroke-width="0.8">Relay</text>
<text x="839.1" y="603.4" font-size="31" text-anchor="start" stroke="#000" stroke-width="1.0">Underhood</text>
<text x="839" y="637.8" font-size="31" text-anchor="start" stroke="#000" stroke-width="1.0">Fuse</text>
<text x="839" y="671.5" font-size="31" text-anchor="start" stroke="#000" stroke-width="1.0">Block</text>
<line x1="487.7" y1="818" x2="488" y2="1053" stroke-width="3.3" stroke-linecap="butt"/>
<text x="307.2" y="917" font-size="31" text-anchor="start" stroke="#000" stroke-width="1.0">0.8 DK GRN</text>
<text x="493.8" y="917" font-size="31" text-anchor="start" stroke="#000" stroke-width="1.0">59</text>
<circle cx="488" cy="954.8" r="9.3" fill="#000" stroke="none"/>
<text x="505.6" y="967" font-size="31" text-anchor="start" stroke="#000" stroke-width="1.0">S186</text>
<polyline points="488,954.8 77.8,954.8 77.8,1327 486,1327" fill="none" stroke-width="3.3" stroke-linecap="square" stroke-linejoin="miter"/>
<path d="M479.5,1061.5 L484.2,1055.8 Q488,1052.2 491.8,1055.8 L496.5,1061.5" fill="none" stroke-width="2.6" stroke-linecap="butt" stroke-linejoin="round"/>
<rect x="461.7" y="1067.2" width="75.7" height="127" fill="none" stroke-width="4"/>
<line x1="488" y1="1069" x2="488" y2="1092.5" stroke-width="3.3" stroke-linecap="butt"/>
<polyline points="479.5,1078.5 488,1069 496.5,1078.5" fill="none" stroke-width="3.3" stroke-linecap="butt" stroke-linejoin="miter"/>
<path d="M488,1092.5 C500,1092.5 500,1110.8 488,1110.8 C500,1110.8 500,1129.2 488,1129.2 C500,1129.2 500,1147.5 488,1147.5 C500,1147.5 500,1165.9 488,1165.9" fill="none" stroke-width="2.6" stroke-linecap="butt" stroke-linejoin="round"/>
<line x1="488" y1="1165.9" x2="488" y2="1192.7" stroke-width="3.3" stroke-linecap="butt"/>
<polyline points="479.5,1183.2 488,1192.7 496.5,1183.2" fill="none" stroke-width="3.3" stroke-linecap="butt" stroke-linejoin="miter"/>
<line x1="506.8" y1="1093.2" x2="506.8" y2="1163.6" stroke-width="2.4" stroke-linecap="butt"/>
<line x1="515" y1="1093.2" x2="515" y2="1163.6" stroke-width="2.4" stroke-linecap="butt"/>
<text x="551.9" y="1091.7" font-size="31" text-anchor="start" stroke="#000" stroke-width="1.0">A/C</text>
<text x="550.4" y="1123.4" font-size="31" text-anchor="start" stroke="#000" stroke-width="1.0">Compressor</text>
<text x="550.4" y="1154" font-size="31" text-anchor="start" stroke="#000" stroke-width="1.0">Clutch</text>
<text x="454.2" y="1228.9" font-size="31" text-anchor="start" stroke="#000" stroke-width="1.0">A</text>
<polyline points="477,1206 486,1214.9 495,1206" fill="none" stroke-width="3.3" stroke-linecap="butt" stroke-linejoin="miter"/>
<line x1="486" y1="1214.9" x2="486" y2="1631" stroke-width="3.3" stroke-linecap="butt"/>
<rect x="51.7" y="1115.3" width="51.4" height="69.7" fill="none" stroke-width="3.8"/>
<line x1="69.2" y1="1147.7" x2="86.5" y2="1147.7" stroke-width="2.8" stroke-linecap="butt"/>
<path d="M77.8,1147.7 L68.5,1158.5 L87,1158.5 Z" fill="#000" stroke="none"/>
<text x="115.6" y="1136" font-size="31" text-anchor="start" stroke="#000" stroke-width="1.0">D104</text>
<text x="119.7" y="1170.6" font-size="31" text-anchor="start" stroke="#000" stroke-width="1.0">A/C</text>
<text x="116.7" y="1197.4" font-size="22.5" text-anchor="start" stroke="#000" stroke-width="0.8">(Compressor</text>
<text x="117" y="1224.2" font-size="22.5" text-anchor="start" stroke="#000" stroke-width="0.8">Clutch Diode</text>
<text x="116.4" y="1251" font-size="22.5" text-anchor="start" stroke="#000" stroke-width="0.8">1 AMP)</text>
<text x="365.5" y="1281" font-size="31" text-anchor="start" stroke="#000" stroke-width="1.0">0.8 BLK</text>
<text x="488.6" y="1281" font-size="31" text-anchor="start" stroke="#000" stroke-width="1.0">150</text>
<text x="198.8" y="1315.8" font-size="31" text-anchor="start" stroke="#000" stroke-width="1.0">0.8 BLK</text>
<text x="195.6" y="1359" font-size="31" text-anchor="start" stroke="#000" stroke-width="1.0">150</text>
<circle cx="486" cy="1327" r="9.3" fill="#000" stroke="none"/>
<text x="503" y="1338.8" font-size="31" text-anchor="start" stroke="#000" stroke-width="1.0">S185</text>
<circle cx="486" cy="1385.2" r="9.3" fill="#000" stroke="none"/>
<text x="401" y="1396" font-size="31" text-anchor="start" stroke="#000" stroke-width="1.0">S107</text>
<line x1="486" y1="1385.4" x2="501.5" y2="1385.4" stroke-width="3.3" stroke-linecap="butt"/>
<line x1="511.1" y1="1385.4" x2="533.6" y2="1385.4" stroke-width="3.3" stroke-linecap="butt"/>
<line x1="543.1" y1="1385.4" x2="565.6" y2="1385.4" stroke-width="3.3" stroke-linecap="butt"/>
<line x1="575.2" y1="1385.4" x2="597.7" y2="1385.4" stroke-width="3.3" stroke-linecap="butt"/>
<line x1="607.2" y1="1385.4" x2="629.7" y2="1385.4" stroke-width="3.3" stroke-linecap="butt"/>
<polyline points="639,1385.4 649.8,1385.4 649.8,1374" fill="none" stroke-width="3.3" stroke-linecap="butt" stroke-linejoin="miter"/>
<line x1="649.8" y1="1330.4" x2="649.8" y2="1339.7" stroke-width="3.3" stroke-linecap="butt"/>
<line x1="649.8" y1="1365.8" x2="649.8" y2="1348.8" stroke-width="3.3" stroke-linecap="butt"/>
<path d="M649.8,1330.4 L640.3,1313 L659.3,1313 Z" fill="#000" stroke="none"/>
<rect x="574.5" y="1224.2" width="154.6" height="76.7" fill="none" stroke-width="4.3"/>
<text x="593.9" y="1243.5" font-size="22.5" text-anchor="start" stroke="#000" stroke-width="0.8">Ground</text>
<text x="593.2" y="1269" font-size="22.5" text-anchor="start" stroke="#000" stroke-width="0.8">Distribution</text>
<text x="593.9" y="1294.5" font-size="22.5" text-anchor="start" stroke="#000" stroke-width="0.8">Cell 14</text>
<text x="396.1" y="1436.3" font-size="31" text-anchor="start" stroke="#000" stroke-width="1.0">1 BLK</text>
<text x="491.4" y="1436.3" font-size="31" text-anchor="start" stroke="#000" stroke-width="1.0">150</text>
<circle cx="486" cy="1460.6" r="9.3" fill="#000" stroke="none"/>
<text x="505.6" y="1470.7" font-size="31" text-anchor="start" stroke="#000" stroke-width="1.0">S147</text>
<path d="M377.3,1461 L360,1452.5 L360,1469.5 Z" fill="#000" stroke="none"/>
<line x1="377.3" y1="1460.8" x2="391.8" y2="1460.8" stroke-width="3.3" stroke-linecap="butt"/>
<line x1="406.3" y1="1460.8" x2="426" y2="1460.8" stroke-width="3.3" stroke-linecap="butt"/>
<line x1="439.5" y1="1460.8" x2="459.5" y2="1460.8" stroke-width="3.3" stroke-linecap="butt"/>
<rect x="193.1" y="1424.3" width="152.2" height="74.6" fill="none" stroke-width="4.2"/>
<text x="212.9" y="1444.2" font-size="22.5" text-anchor="start" stroke="#000" stroke-width="0.8">Ground</text>
<text x="212.2" y="1469.6" font-size="22.5" text-anchor="start" stroke="#000" stroke-width="0.8">Distribution</text>
<text x="212.9" y="1495" font-size="22.5" text-anchor="start" stroke="#000" stroke-width="0.8">Cell 14</text>
<path d="M269,1529 L260.4,1512.5 L277.6,1512.5 Z" fill="#000" stroke="none"/>
<polyline points="268.2,1527 268.2,1631.4 486,1631.4" fill="none" stroke-width="3.3" stroke-linecap="square" stroke-linejoin="miter"/>
<text x="391.2" y="1556" font-size="31" text-anchor="start" stroke="#000" stroke-width="1.0">3 BLK</text>
<text x="490.1" y="1556" font-size="31" text-anchor="start" stroke="#000" stroke-width="1.0">150</text>
<text x="305.4" y="1622" font-size="31" text-anchor="start" stroke="#000" stroke-width="1.0">0.5 BLK</text>
<circle cx="486" cy="1630.9" r="9.3" fill="#000" stroke="none"/>
<line x1="472.5" y1="1641.4" x2="499.5" y2="1641.4" stroke-width="2.6" stroke-linecap="butt"/>
<line x1="476.5" y1="1646.9" x2="495.5" y2="1646.9" stroke-width="2.6" stroke-linecap="butt"/>
<line x1="481" y1="1651.9" x2="491" y2="1651.9" stroke-width="2.6" stroke-linecap="butt"/>
<text x="507.3" y="1645.4" font-size="31" text-anchor="start" stroke="#000" stroke-width="1.0">G105</text>
<text x="305.2" y="1661.3" font-size="31" text-anchor="start" stroke="#000" stroke-width="1.0">150</text>
<polyline points="626,818 626,876.4 780,876.4 780,1392.6" fill="none" stroke-width="3.3" stroke-linecap="square" stroke-linejoin="miter"/>
<text x="646.5" y="1003" font-size="31" text-anchor="start" stroke="#000" stroke-width="1.0">0.5</text>
<text x="645.2" y="1037.4" font-size="31" text-anchor="start" stroke="#000" stroke-width="1.0">DK GRN/</text>
<text x="647.6" y="1071.8" font-size="31" text-anchor="start" stroke="#000" stroke-width="1.0">WHT</text>
<text x="789.3" y="1037.4" font-size="31" text-anchor="start" stroke="#000" stroke-width="1.0">459</text>
<text x="848.2" y="1251.8" font-size="31" text-anchor="start" stroke="#000" stroke-width="1.0">0.8</text>
<text x="846.9" y="1286" font-size="31" text-anchor="start" stroke="#000" stroke-width="1.0">DK</text>
<text x="846.4" y="1321" font-size="31" text-anchor="start" stroke="#000" stroke-width="1.0">BLU</text>
<text x="923.6" y="1321" font-size="31" text-anchor="start" stroke="#000" stroke-width="1.0">473</text>
<polyline points="1032,922 1032,837.8 1574.6,837.8" fill="none" stroke-width="3.3" stroke-linecap="square" stroke-linejoin="miter"/>
<path d="M1573.4,837.8 C1574.9,837.8 1576.8,827.8 1584.4,827.8 C1592,827.8 1593.9,837.8 1595.4,837.8" fill="none" stroke-width="3.3" stroke-linecap="butt" stroke-linejoin="round"/>
<polyline points="1594,837.8 1937.7,837.8 1937.7,1639" fill="none" stroke-width="3.3" stroke-linecap="square" stroke-linejoin="miter"/>
<circle cx="1338.2" cy="837.8" r="9.3" fill="#000" stroke="none"/>
<text x="1094.3" y="827" font-size="31" text-anchor="start" stroke="#000" stroke-width="1.0">0.5 BLK/WHT</text>
<text x="1094.8" y="874.7" font-size="31" text-anchor="start" stroke="#000" stroke-width="1.0">451</text>
<text x="1356.6" y="825.8" font-size="31" text-anchor="start" stroke="#000" stroke-width="1.0">S103</text>
<polyline points="1338.2,837.8 1459,904.5 1574.6,904.5" fill="none" stroke-width="3.3" stroke-linecap="square" stroke-linejoin="miter"/>
<path d="M1573.4,904.5 C1574.9,904.5 1576.8,894.5 1584.4,894.5 C1592,894.5 1593.9,904.5 1595.4,904.5" fill="none" stroke-width="3.3" stroke-linecap="butt" stroke-linejoin="round"/>
<polyline points="1594,904.5 1820.5,904.5 1820.5,1639" fill="none" stroke-width="3.3" stroke-linecap="square" stroke-linejoin="miter"/>
<text x="1653" y="829.8" font-size="31" text-anchor="start" stroke="#000" stroke-width="1.0">1 BLK/WHT</text>
<text x="1655.3" y="868.5" font-size="31" text-anchor="start" stroke="#000" stroke-width="1.0">451</text>
<text x="1652.5" y="989.7" font-size="31" text-anchor="start" stroke="#000" stroke-width="1.0">1 BLK/WHT</text>
<text x="1828.3" y="990.2" font-size="31" text-anchor="start" stroke="#000" stroke-width="1.0">451</text>
<line x1="1337.5" y1="837.8" x2="1337.5" y2="977.5" stroke-width="3.3" stroke-linecap="butt"/>
<text x="1138.8" y="919.4" font-size="31" text-anchor="start" stroke="#000" stroke-width="1.0">0.5 BLK/WHT</text>
<text x="1344.3" y="919" font-size="31" text-anchor="start" stroke="#000" stroke-width="1.0">451</text>
<line x1="1338.2" y1="813.6" x2="1338.2" y2="796.6" stroke-width="3.3" stroke-linecap="butt"/>
<line x1="1338.2" y1="782.1" x2="1338.2" y2="765.1" stroke-width="3.3" stroke-linecap="butt"/>
<line x1="1338.2" y1="750.7" x2="1338.2" y2="733.7" stroke-width="3.3" stroke-linecap="butt"/>
<polyline points="1338.2,720 1338.2,709.3 1327,709.3" fill="none" stroke-width="3.3" stroke-linecap="butt" stroke-linejoin="miter"/>
<line x1="1278" y1="709.3" x2="1286" y2="709.3" stroke-width="3.3" stroke-linecap="butt"/>
<line x1="1299" y1="709.3" x2="1311" y2="709.3" stroke-width="3.3" stroke-linecap="butt"/>
<path d="M1279,709.3 L1264,700.8 L1264,717.8 Z" fill="#000" stroke="none"/>
<rect x="1098.2" y="670.4" width="153.1" height="78.7" fill="none" stroke-width="4.3"/>
<text x="1121.9" y="692" font-size="22.5" text-anchor="start" stroke="#000" stroke-width="0.8">Ground</text>
<text x="1121.2" y="717" font-size="22.5" text-anchor="start" stroke="#000" stroke-width="0.8">Distribution</text>
<text x="1121.9" y="742" font-size="22.5" text-anchor="start" stroke="#000" stroke-width="0.8">Cell 14</text>
<text x="993.3" y="927.5" font-size="31" text-anchor="start" stroke="#000" stroke-width="1.0">B</text>
<polyline points="1023.3,931 1032,922.5 1040.7,931" fill="none" stroke-width="3.3" stroke-linecap="butt" stroke-linejoin="miter"/>
<rect x="992.5" y="940.6" width="78.9" height="105.9" fill="none" stroke-width="4"/>
<line x1="1032" y1="943" x2="1032" y2="971" stroke-width="3.3" stroke-linecap="butt"/>
<polyline points="1024.5,951.5 1032,943 1039.5,951.5" fill="none" stroke-width="3.3" stroke-linecap="butt" stroke-linejoin="miter"/>
<circle cx="1032" cy="971" r="4.8" fill="#000" stroke="none"/>
<line x1="1032" y1="971" x2="1013" y2="1007.1" stroke-width="2.8" stroke-linecap="butt"/>
<path d="M1013,1007.1 L1014.5,995.1 L1018,1000.1 L1023.5,1002.6 Z" fill="#000" stroke="none"/>
<circle cx="1009.5" cy="1013.6" r="4.8" fill="#000" stroke="none"/>
<circle cx="1054.9" cy="1013.6" r="4.8" fill="#000" stroke="none"/>
<path d="M1013.5,1018.6 Q1032.2,1029.6 1050.9,1018.6" fill="none" stroke-width="2.2" stroke-linecap="butt" stroke-linejoin="round" stroke-dasharray="5 4"/>
<line x1="1054.9" y1="1013.6" x2="1054.9" y2="1044" stroke-width="3.3" stroke-linecap="butt"/>
<polyline points="1047.4,1035.5 1054.9,1044 1062.4,1035.5" fill="none" stroke-width="3.3" stroke-linecap="butt" stroke-linejoin="miter"/>
<text x="1084.4" y="959.3" font-size="31" text-anchor="start" stroke="#000" stroke-width="1.0">A/C</text>
<text x="1082.9" y="993.7" font-size="31" text-anchor="start" stroke="#000" stroke-width="1.0">Compressor</text>
<text x="1082.9" y="1028.1" font-size="31" text-anchor="start" stroke="#000" stroke-width="1.0">Cycling</text>
<text x="1083.1" y="1062.5" font-size="31" text-anchor="start" stroke="#000" stroke-width="1.0">Switch</text>
<text x="1015.6" y="1079.8" font-size="31" text-anchor="start" stroke="#000" stroke-width="1.0">A</text>
<polyline points="1045.5,1057 1054,1064.5 1062.5,1057" fill="none" stroke-width="3.3" stroke-linecap="butt" stroke-linejoin="miter"/>
<line x1="1054" y1="1064" x2="1054" y2="1392.6" stroke-width="3.3" stroke-linecap="butt"/>
<text x="935" y="1136" font-size="31" text-anchor="start" stroke="#000" stroke-width="1.0">0.5</text>
<text x="933.7" y="1170.3" font-size="31" text-anchor="start" stroke="#000" stroke-width="1.0">DK BLU</text>
<text x="1060.4" y="1170" font-size="31" text-anchor="start" stroke="#000" stroke-width="1.0">604</text>
<text x="1296.5" y="984.4" font-size="31" text-anchor="start" stroke="#000" stroke-width="1.0">B</text>
<polyline points="1328.8,986 1337.5,977.5 1346.2,986" fill="none" stroke-width="3.3" stroke-linecap="butt" stroke-linejoin="miter"/>
<rect x="1297.8" y="997" width="78.4" height="106" fill="none" stroke-width="4"/>
<line x1="1337.5" y1="1000" x2="1337.5" y2="1027.3" stroke-width="3.3" stroke-linecap="butt"/>
<polyline points="1330,1008.5 1337.5,1000 1345,1008.5" fill="none" stroke-width="3.3" stroke-linecap="butt" stroke-linejoin="miter"/>
<circle cx="1337.5" cy="1027.3" r="4.8" fill="#000" stroke="none"/>
<line x1="1337.5" y1="1027.3" x2="1318.5" y2="1064" stroke-width="2.8" stroke-linecap="butt"/>
<path d="M1318.5,1064 L1320,1052 L1323.5,1057 L1329,1059.5 Z" fill="#000" stroke="none"/>
<circle cx="1315" cy="1070.5" r="4.8" fill="#000" stroke="none"/>
<circle cx="1359.4" cy="1070.5" r="4.8" fill="#000" stroke="none"/>
<path d="M1319,1075.5 Q1337.2,1086.5 1355.4,1075.5" fill="none" stroke-width="2.2" stroke-linecap="butt" stroke-linejoin="round" stroke-dasharray="5 4"/>
<line x1="1359.4" y1="1070.5" x2="1359.4" y2="1099.6" stroke-width="3.3" stroke-linecap="butt"/>
<polyline points="1351.9,1091.1 1359.4,1099.6 1366.9,1091.1" fill="none" stroke-width="3.3" stroke-linecap="butt" stroke-linejoin="miter"/>
<text x="1391.9" y="1015.7" font-size="31" text-anchor="start" stroke="#000" stroke-width="1.0">A/C</text>
<text x="1390.4" y="1049.8" font-size="31" text-anchor="start" stroke="#000" stroke-width="1.0">Compressor</text>
<text x="1389.5" y="1083.9" font-size="31" text-anchor="start" stroke="#000" stroke-width="1.0">Low</text>
<text x="1389.5" y="1118" font-size="31" text-anchor="start" stroke="#000" stroke-width="1.0">Pressure</text>
<text x="1390.4" y="1152.1" font-size="31" text-anchor="start" stroke="#000" stroke-width="1.0">Cutout</text>
<text x="1390.6" y="1186.2" font-size="31" text-anchor="start" stroke="#000" stroke-width="1.0">Switch</text>
<text x="1326.5" y="1136.7" font-size="31" text-anchor="start" stroke="#000" stroke-width="1.0">A</text>
<polyline points="1350.9,1114.5 1359.4,1122.5 1367.9,1114.5" fill="none" stroke-width="3.3" stroke-linecap="butt" stroke-linejoin="miter"/>
<line x1="1359.4" y1="1122" x2="1360.2" y2="1392.6" stroke-width="3.3" stroke-linecap="butt"/>
<text x="1237.2" y="1230.7" font-size="31" text-anchor="start" stroke="#000" stroke-width="1.0">0.5</text>
<text x="1235.9" y="1265" font-size="31" text-anchor="start" stroke="#000" stroke-width="1.0">DK GRN</text>
<text x="1370.4" y="1265" font-size="31" text-anchor="start" stroke="#000" stroke-width="1.0">603</text>
<text x="1543" y="1106.8" font-size="31" text-anchor="start" stroke="#000" stroke-width="1.0">B</text>
<polyline points="1575.7,1105.5 1584.4,1097 1593.1,1105.5" fill="none" stroke-width="3.3" stroke-linecap="butt" stroke-linejoin="miter"/>
<rect x="1545.7" y="1121" width="78.6" height="104.5" fill="none" stroke-width="4"/>
<line x1="1584.4" y1="1123.4" x2="1585.2" y2="1152.6" stroke-width="3.3" stroke-linecap="butt"/>
<polyline points="1576.9,1131.9 1584.4,1123.4 1591.9,1131.9" fill="none" stroke-width="3.3" stroke-linecap="butt" stroke-linejoin="miter"/>
<circle cx="1585.2" cy="1152.6" r="4.8" fill="#000" stroke="none"/>
<line x1="1585.2" y1="1152.6" x2="1566" y2="1189" stroke-width="2.8" stroke-linecap="butt"/>
<path d="M1564.5,1191.5 L1566,1179.5 L1569.5,1184.5 L1575,1187 Z" fill="#000" stroke="none"/>
<circle cx="1562.7" cy="1195.7" r="4.8" fill="#000" stroke="none"/>
<circle cx="1608.3" cy="1196.2" r="4.6" fill="#000" stroke="none"/>
<path d="M1567,1200 Q1586,1212 1604,1201" fill="none" stroke-width="2.2" stroke-linecap="butt" stroke-linejoin="round" stroke-dasharray="5 4"/>
<line x1="1562.7" y1="1195.7" x2="1562.7" y2="1224" stroke-width="3.3" stroke-linecap="butt"/>
<polyline points="1555.2,1215.5 1562.7,1224 1570.2,1215.5" fill="none" stroke-width="3.3" stroke-linecap="butt" stroke-linejoin="miter"/>
<text x="1637.3" y="1141.2" font-size="31" text-anchor="start" stroke="#000" stroke-width="1.0">A/C</text>
<text x="1635.8" y="1175.6" font-size="31" text-anchor="start" stroke="#000" stroke-width="1.0">Compressor</text>
<text x="1634.9" y="1210" font-size="31" text-anchor="start" stroke="#000" stroke-width="1.0">High</text>
<text x="1634.9" y="1244.4" font-size="31" text-anchor="start" stroke="#000" stroke-width="1.0">Pressure</text>
<text x="1635.8" y="1278.8" font-size="31" text-anchor="start" stroke="#000" stroke-width="1.0">Cutout</text>
<text x="1636" y="1313.2" font-size="31" text-anchor="start" stroke="#000" stroke-width="1.0">Switch</text>
<text x="1530.3" y="1265" font-size="31" text-anchor="start" stroke="#000" stroke-width="1.0">A</text>
<polyline points="1553.7,1241 1562.2,1249.5 1570.7,1241" fill="none" stroke-width="3.3" stroke-linecap="butt" stroke-linejoin="miter"/>
<line x1="1562.2" y1="1249" x2="1561.4" y2="1392.6" stroke-width="3.3" stroke-linecap="butt"/>
<text x="1409.3" y="1301" font-size="31" text-anchor="start" stroke="#000" stroke-width="1.0">0.8 DK</text>
<text x="1408.9" y="1335.7" font-size="31" text-anchor="start" stroke="#000" stroke-width="1.0">GRN/WHT</text>
<text x="1571.2" y="1335.7" font-size="31" text-anchor="start" stroke="#000" stroke-width="1.0">762</text>
<polyline points="735.5,1412 725,1412 725,1422.5" fill="none" stroke-width="4" stroke-linecap="butt" stroke-linejoin="miter"/>
<polyline points="1627.7,1412 1638.2,1412 1638.2,1422.5" fill="none" stroke-width="4" stroke-linecap="butt" stroke-linejoin="miter"/>
<polyline points="1627.7,1574 1638.2,1574 1638.2,1563.5" fill="none" stroke-width="4" stroke-linecap="butt" stroke-linejoin="miter"/>
<polyline points="735.5,1574 725,1574 725,1563.5" fill="none" stroke-width="4" stroke-linecap="butt" stroke-linejoin="miter"/>
<line x1="749.3" y1="1412" x2="769.3" y2="1412" stroke-width="4" stroke-linecap="butt"/>
<line x1="783.1" y1="1412" x2="803.1" y2="1412" stroke-width="4" stroke-linecap="butt"/>
<line x1="816.9" y1="1412" x2="836.9" y2="1412" stroke-width="4" stroke-linecap="butt"/>
<line x1="850.6" y1="1412" x2="870.6" y2="1412" stroke-width="4" stroke-linecap="butt"/>
<line x1="884.4" y1="1412" x2="904.4" y2="1412" stroke-width="4" stroke-linecap="butt"/>
<line x1="918.2" y1="1412" x2="938.2" y2="1412" stroke-width="4" stroke-linecap="butt"/>
<line x1="952" y1="1412" x2="972" y2="1412" stroke-width="4" stroke-linecap="butt"/>
<line x1="985.8" y1="1412" x2="1005.8" y2="1412" stroke-width="4" stroke-linecap="butt"/>
<line x1="1019.6" y1="1412" x2="1039.6" y2="1412" stroke-width="4" stroke-linecap="butt"/>
<line x1="1053.4" y1="1412" x2="1073.4" y2="1412" stroke-width="4" stroke-linecap="butt"/>
<line x1="1087.1" y1="1412" x2="1107.1" y2="1412" stroke-width="4" stroke-linecap="butt"/>
<line x1="1120.9" y1="1412" x2="1140.9" y2="1412" stroke-width="4" stroke-linecap="butt"/>
<line x1="1154.7" y1="1412" x2="1174.7" y2="1412" stroke-width="4" stroke-linecap="butt"/>
<line x1="1188.5" y1="1412" x2="1208.5" y2="1412" stroke-width="4" stroke-linecap="butt"/>
<line x1="1222.3" y1="1412" x2="1242.3" y2="1412" stroke-width="4" stroke-linecap="butt"/>
<line x1="1256.1" y1="1412" x2="1276.1" y2="1412" stroke-width="4" stroke-linecap="butt"/>
<line x1="1289.8" y1="1412" x2="1309.8" y2="1412" stroke-width="4" stroke-linecap="butt"/>
<line x1="1323.6" y1="1412" x2="1343.6" y2="1412" stroke-width="4" stroke-linecap="butt"/>
<line x1="1357.4" y1="1412" x2="1377.4" y2="1412" stroke-width="4" stroke-linecap="butt"/>
<line x1="1391.2" y1="1412" x2="1411.2" y2="1412" stroke-width="4" stroke-linecap="butt"/>
<line x1="1425" y1="1412" x2="1445" y2="1412" stroke-width="4" stroke-linecap="butt"/>
<line x1="1458.8" y1="1412" x2="1478.8" y2="1412" stroke-width="4" stroke-linecap="butt"/>
<line x1="1492.6" y1="1412" x2="1512.6" y2="1412" stroke-width="4" stroke-linecap="butt"/>
<line x1="1526.3" y1="1412" x2="1546.3" y2="1412" stroke-width="4" stroke-linecap="butt"/>
<line x1="1560.1" y1="1412" x2="1580.1" y2="1412" stroke-width="4" stroke-linecap="butt"/>
<line x1="1593.9" y1="1412" x2="1613.9" y2="1412" stroke-width="4" stroke-linecap="butt"/>
<line x1="749.3" y1="1574" x2="769.3" y2="1574" stroke-width="4" stroke-linecap="butt"/>
<line x1="783.1" y1="1574" x2="803.1" y2="1574" stroke-width="4" stroke-linecap="butt"/>
<line x1="816.9" y1="1574" x2="836.9" y2="1574" stroke-width="4" stroke-linecap="butt"/>
<line x1="850.6" y1="1574" x2="870.6" y2="1574" stroke-width="4" stroke-linecap="butt"/>
<line x1="884.4" y1="1574" x2="904.4" y2="1574" stroke-width="4" stroke-linecap="butt"/>
<line x1="918.2" y1="1574" x2="938.2" y2="1574" stroke-width="4" stroke-linecap="butt"/>
<line x1="952" y1="1574" x2="972" y2="1574" stroke-width="4" stroke-linecap="butt"/>
<line x1="985.8" y1="1574" x2="1005.8" y2="1574" stroke-width="4" stroke-linecap="butt"/>
<line x1="1019.6" y1="1574" x2="1039.6" y2="1574" stroke-width="4" stroke-linecap="butt"/>
<line x1="1053.4" y1="1574" x2="1073.4" y2="1574" stroke-width="4" stroke-linecap="butt"/>
<line x1="1087.1" y1="1574" x2="1107.1" y2="1574" stroke-width="4" stroke-linecap="butt"/>
<line x1="1120.9" y1="1574" x2="1140.9" y2="1574" stroke-width="4" stroke-linecap="butt"/>
<line x1="1154.7" y1="1574" x2="1174.7" y2="1574" stroke-width="4" stroke-linecap="butt"/>
<line x1="1188.5" y1="1574" x2="1208.5" y2="1574" stroke-width="4" stroke-linecap="butt"/>
<line x1="1222.3" y1="1574" x2="1242.3" y2="1574" stroke-width="4" stroke-linecap="butt"/>
<line x1="1256.1" y1="1574" x2="1276.1" y2="1574" stroke-width="4" stroke-linecap="butt"/>
<line x1="1289.8" y1="1574" x2="1309.8" y2="1574" stroke-width="4" stroke-linecap="butt"/>
<line x1="1323.6" y1="1574" x2="1343.6" y2="1574" stroke-width="4" stroke-linecap="butt"/>
<line x1="1357.4" y1="1574" x2="1377.4" y2="1574" stroke-width="4" stroke-linecap="butt"/>
<line x1="1391.2" y1="1574" x2="1411.2" y2="1574" stroke-width="4" stroke-linecap="butt"/>
<line x1="1425" y1="1574" x2="1445" y2="1574" stroke-width="4" stroke-linecap="butt"/>
<line x1="1458.8" y1="1574" x2="1478.8" y2="1574" stroke-width="4" stroke-linecap="butt"/>
<line x1="1492.6" y1="1574" x2="1512.6" y2="1574" stroke-width="4" stroke-linecap="butt"/>
<line x1="1526.3" y1="1574" x2="1546.3" y2="1574" stroke-width="4" stroke-linecap="butt"/>
<line x1="1560.1" y1="1574" x2="1580.1" y2="1574" stroke-width="4" stroke-linecap="butt"/>
<line x1="1593.9" y1="1574" x2="1613.9" y2="1574" stroke-width="4" stroke-linecap="butt"/>
<line x1="725" y1="1434.7" x2="725" y2="1454.7" stroke-width="4" stroke-linecap="butt"/>
<line x1="725" y1="1466.9" x2="725" y2="1486.9" stroke-width="4" stroke-linecap="butt"/>
<line x1="725" y1="1499.1" x2="725" y2="1519.1" stroke-width="4" stroke-linecap="butt"/>
<line x1="725" y1="1531.3" x2="725" y2="1551.3" stroke-width="4" stroke-linecap="butt"/>
<line x1="1638.2" y1="1434.7" x2="1638.2" y2="1454.7" stroke-width="4" stroke-linecap="butt"/>
<line x1="1638.2" y1="1466.9" x2="1638.2" y2="1486.9" stroke-width="4" stroke-linecap="butt"/>
<line x1="1638.2" y1="1499.1" x2="1638.2" y2="1519.1" stroke-width="4" stroke-linecap="butt"/>
<line x1="1638.2" y1="1531.3" x2="1638.2" y2="1551.3" stroke-width="4" stroke-linecap="butt"/>
<polyline points="771.3,1401.1 780,1392.6 788.7,1401.1" fill="none" stroke-width="3.3" stroke-linecap="butt" stroke-linejoin="miter"/>
<polyline points="906.3,1401.1 915,1392.6 923.7,1401.1" fill="none" stroke-width="3.3" stroke-linecap="butt" stroke-linejoin="miter"/>
<polyline points="1045.3,1401.1 1054,1392.6 1062.7,1401.1" fill="none" stroke-width="3.3" stroke-linecap="butt" stroke-linejoin="miter"/>
<polyline points="1351.5,1401.1 1360.2,1392.6 1368.9,1401.1" fill="none" stroke-width="3.3" stroke-linecap="butt" stroke-linejoin="miter"/>
<polyline points="1552.7,1401.1 1561.4,1392.6 1570.1,1401.1" fill="none" stroke-width="3.3" stroke-linecap="butt" stroke-linejoin="miter"/>
<line x1="1062" y1="1400.8" x2="1067.8" y2="1400.8" stroke-width="2.2" stroke-linecap="butt"/>
<line x1="1076.3" y1="1400.8" x2="1086.3" y2="1400.8" stroke-width="2.2" stroke-linecap="butt"/>
<line x1="1095.6" y1="1400.8" x2="1105.6" y2="1400.8" stroke-width="2.2" stroke-linecap="butt"/>
<line x1="1114.9" y1="1400.8" x2="1124.9" y2="1400.8" stroke-width="2.2" stroke-linecap="butt"/>
<line x1="1134.2" y1="1400.8" x2="1144.2" y2="1400.8" stroke-width="2.2" stroke-linecap="butt"/>
<line x1="1153.5" y1="1400.8" x2="1163.5" y2="1400.8" stroke-width="2.2" stroke-linecap="butt"/>
<line x1="1172.8" y1="1400.8" x2="1182.8" y2="1400.8" stroke-width="2.2" stroke-linecap="butt"/>
<line x1="1192.1" y1="1400.8" x2="1202.1" y2="1400.8" stroke-width="2.2" stroke-linecap="butt"/>
<line x1="1211.4" y1="1400.8" x2="1221.4" y2="1400.8" stroke-width="2.2" stroke-linecap="butt"/>
<line x1="1230.7" y1="1400.8" x2="1240.7" y2="1400.8" stroke-width="2.2" stroke-linecap="butt"/>
<line x1="1250" y1="1400.8" x2="1260" y2="1400.8" stroke-width="2.2" stroke-linecap="butt"/>
<line x1="1269.3" y1="1400.8" x2="1279.3" y2="1400.8" stroke-width="2.2" stroke-linecap="butt"/>
<line x1="1288.6" y1="1400.8" x2="1298.6" y2="1400.8" stroke-width="2.2" stroke-linecap="butt"/>
<line x1="1307.9" y1="1400.8" x2="1317.9" y2="1400.8" stroke-width="2.2" stroke-linecap="butt"/>
<line x1="1327.2" y1="1400.8" x2="1337.2" y2="1400.8" stroke-width="2.2" stroke-linecap="butt"/>
<line x1="1385.1" y1="1400.8" x2="1395.1" y2="1400.8" stroke-width="2.2" stroke-linecap="butt"/>
<line x1="1404.4" y1="1400.8" x2="1414.4" y2="1400.8" stroke-width="2.2" stroke-linecap="butt"/>
<line x1="1423.7" y1="1400.8" x2="1433.7" y2="1400.8" stroke-width="2.2" stroke-linecap="butt"/>
<line x1="1443" y1="1400.8" x2="1453" y2="1400.8" stroke-width="2.2" stroke-linecap="butt"/>
<line x1="1462.3" y1="1400.8" x2="1472.3" y2="1400.8" stroke-width="2.2" stroke-linecap="butt"/>
<line x1="1481.6" y1="1400.8" x2="1491.6" y2="1400.8" stroke-width="2.2" stroke-linecap="butt"/>
<line x1="1500.9" y1="1400.8" x2="1510.9" y2="1400.8" stroke-width="2.2" stroke-linecap="butt"/>
<line x1="1520.2" y1="1400.8" x2="1530.2" y2="1400.8" stroke-width="2.2" stroke-linecap="butt"/>
<line x1="1539.5" y1="1400.8" x2="1549.5" y2="1400.8" stroke-width="2.2" stroke-linecap="butt"/>
<text x="749" y="1401.8" font-size="31" text-anchor="start" stroke="#000" stroke-width="1.0">1</text>
<text x="797.4" y="1401.8" font-size="31" text-anchor="start" stroke="#000" stroke-width="1.0">C3</text>
<text x="883.1" y="1401.8" font-size="31" text-anchor="start" stroke="#000" stroke-width="1.0">9</text>
<text x="926.7" y="1401.8" font-size="31" text-anchor="start" stroke="#000" stroke-width="1.0">C4</text>
<text x="1002.6" y="1401.8" font-size="31" text-anchor="start" stroke="#000" stroke-width="1.0">14</text>
<text x="1308.7" y="1391.3" font-size="31" text-anchor="start" stroke="#000" stroke-width="1.0">30</text>
<text x="1510.8" y="1391" font-size="31" text-anchor="start" stroke="#000" stroke-width="1.0">25</text>
<text x="1576.4" y="1401.3" font-size="31" text-anchor="start" stroke="#000" stroke-width="1.0">C3</text>
<text x="738.2" y="1440.2" font-size="22.5" text-anchor="start" stroke="#000" stroke-width="0.8">A/C</text>
<text x="737.1" y="1467.5" font-size="22.5" text-anchor="start" stroke="#000" stroke-width="0.8">Compressor</text>
<text x="737.1" y="1494.9" font-size="22.5" text-anchor="start" stroke="#000" stroke-width="0.8">Clutch</text>
<text x="736.4" y="1522.2" font-size="22.5" text-anchor="start" stroke="#000" stroke-width="0.8">Relay</text>
<text x="737.1" y="1549.6" font-size="22.5" text-anchor="start" stroke="#000" stroke-width="0.8">Control</text>
<text x="879.3" y="1440.2" font-size="22.5" text-anchor="start" stroke="#000" stroke-width="0.8">Auxiliary</text>
<text x="877.5" y="1467.6" font-size="22.5" text-anchor="start" stroke="#000" stroke-width="0.8">Fan</text>
<text x="878.2" y="1495" font-size="22.5" text-anchor="start" stroke="#000" stroke-width="0.8">Control</text>
<text x="1023" y="1440.2" font-size="22.5" text-anchor="start" stroke="#000" stroke-width="0.8">A/C</text>
<text x="1021.2" y="1467.6" font-size="22.5" text-anchor="start" stroke="#000" stroke-width="0.8">Recirculation</text>
<text x="1022" y="1495" font-size="22.5" text-anchor="start" stroke="#000" stroke-width="0.8">Signal</text>
<text x="1337.7" y="1439" font-size="22.5" text-anchor="start" stroke="#000" stroke-width="0.8">A/C</text>
<text x="1336.6" y="1466.2" font-size="22.5" text-anchor="start" stroke="#000" stroke-width="0.8">Cycling</text>
<text x="1336.7" y="1493.4" font-size="22.5" text-anchor="start" stroke="#000" stroke-width="0.8">Switch</text>
<text x="1336.7" y="1520.6" font-size="22.5" text-anchor="start" stroke="#000" stroke-width="0.8">Signal</text>
<text x="1544.7" y="1439" font-size="22.5" text-anchor="start" stroke="#000" stroke-width="0.8">A/C</text>
<text x="1542.9" y="1463.9" font-size="22.5" text-anchor="start" stroke="#000" stroke-width="0.8">Request</text>
<text x="1543.7" y="1488.8" font-size="22.5" text-anchor="start" stroke="#000" stroke-width="0.8">Signal</text>
<rect x="1187.1" y="1423.8" width="128.6" height="136.9" fill="none" stroke-width="4.2"/>
<line x1="1185" y1="1450.8" x2="1317.8" y2="1450.8" stroke-width="3.5" stroke-linecap="butt"/>
<text x="1205.8" y="1444.2" font-size="22.5" text-anchor="start" stroke="#000" stroke-width="0.6" textLength="92" lengthAdjust="spacingAndGlyphs">CONN ID</text>
<text x="1203" y="1472" font-size="22.5" text-anchor="start" stroke="#000" stroke-width="0.6" textLength="89.5" lengthAdjust="spacingAndGlyphs">C1 = BLU</text>
<text x="1203" y="1499.1" font-size="22.5" text-anchor="start" stroke="#000" stroke-width="0.6" textLength="94.8" lengthAdjust="spacingAndGlyphs">C2 = RED</text>
<text x="1203" y="1526.2" font-size="22.5" text-anchor="start" stroke="#000" stroke-width="0.6" textLength="92.7" lengthAdjust="spacingAndGlyphs">C3 = CLR</text>
<text x="1203" y="1553.3" font-size="22.5" text-anchor="start" stroke="#000" stroke-width="0.6" textLength="92.1" lengthAdjust="spacingAndGlyphs">C4 = BLK</text>
<text x="1652.6" y="1433.6" font-size="31" text-anchor="start" stroke="#000" stroke-width="1.0">Vehicle</text>
<text x="1651.1" y="1469.6" font-size="31" text-anchor="start" stroke="#000" stroke-width="1.0">Control</text>
<text x="1650.2" y="1505.6" font-size="31" text-anchor="start" stroke="#000" stroke-width="1.0">Module</text>
<text x="1650.8" y="1541.6" font-size="31" text-anchor="start" stroke="#000" stroke-width="1.0">(VCM)</text>
<circle cx="2058" cy="1365" r="9.3" fill="#000" stroke="none"/>
<text x="1968.6" y="1377" font-size="31" text-anchor="start" stroke="#000" stroke-width="1.0">S298</text>
<line x1="2058" y1="1365" x2="2077.7" y2="1365" stroke-width="3.3" stroke-linecap="butt"/>
<line x1="2092.3" y1="1365" x2="2102" y2="1365" stroke-width="3.3" stroke-linecap="butt"/>
<path d="M2101.6,1366 L2119,1357.5 L2119,1374.5 Z" fill="#000" stroke="none"/>
<rect x="2132.1" y="1328.6" width="152.6" height="76.1" fill="none" stroke-width="4.2"/>
<text x="2151.9" y="1348.6" font-size="22.5" text-anchor="start" stroke="#000" stroke-width="0.8">Ground</text>
<text x="2151.2" y="1374.1" font-size="22.5" text-anchor="start" stroke="#000" stroke-width="0.8">Distribution</text>
<text x="2151.9" y="1399.6" font-size="22.5" text-anchor="start" stroke="#000" stroke-width="0.8">Cell 14</text>
<path d="M2209.6,1432.8 L2200.1,1417.7 L2219.1,1417.7 Z" fill="#000" stroke="none"/>
<polyline points="2209.2,1430 2209.2,1567 2111,1567 2065.7,1631" fill="none" stroke-width="3.3" stroke-linecap="square" stroke-linejoin="miter"/>
<text x="1967.6" y="1491.3" font-size="31" text-anchor="start" stroke="#000" stroke-width="1.0">1 BLK</text>
<text x="2063.3" y="1491.3" font-size="31" text-anchor="start" stroke="#000" stroke-width="1.0">150</text>
<text x="2113.8" y="1539" font-size="31" text-anchor="start" stroke="#000" stroke-width="1.0">3 BLK</text>
<text x="2212.2" y="1539" font-size="31" text-anchor="start" stroke="#000" stroke-width="1.0">150</text>
<circle cx="1820.5" cy="1639.3" r="9.3" fill="#000" stroke="none"/>
<line x1="1807" y1="1649.8" x2="1834" y2="1649.8" stroke-width="2.6" stroke-linecap="butt"/>
<line x1="1811" y1="1655.3" x2="1830" y2="1655.3" stroke-width="2.6" stroke-linecap="butt"/>
<line x1="1815.5" y1="1660.3" x2="1825.5" y2="1660.3" stroke-width="2.6" stroke-linecap="butt"/>
<circle cx="1937.7" cy="1639.3" r="9.3" fill="#000" stroke="none"/>
<line x1="1924.2" y1="1649.8" x2="1951.2" y2="1649.8" stroke-width="2.6" stroke-linecap="butt"/>
<line x1="1928.2" y1="1655.3" x2="1947.2" y2="1655.3" stroke-width="2.6" stroke-linecap="butt"/>
<line x1="1932.7" y1="1660.3" x2="1942.7" y2="1660.3" stroke-width="2.6" stroke-linecap="butt"/>
<circle cx="2057.8" cy="1639.3" r="9.3" fill="#000" stroke="none"/>
<line x1="2044.3" y1="1649.8" x2="2071.3" y2="1649.8" stroke-width="2.6" stroke-linecap="butt"/>
<line x1="2048.3" y1="1655.3" x2="2067.3" y2="1655.3" stroke-width="2.6" stroke-linecap="butt"/>
<line x1="2052.8" y1="1660.3" x2="2062.8" y2="1660.3" stroke-width="2.6" stroke-linecap="butt"/>
<text x="1839.6" y="1654.7" font-size="31" text-anchor="start" stroke="#000" stroke-width="1.0">G104</text>
<text x="1961.8" y="1654.7" font-size="31" text-anchor="start" stroke="#000" stroke-width="1.0">G103</text>
<text x="2079.6" y="1654.7" font-size="31" text-anchor="start" stroke="#000" stroke-width="1.0">G200</text>
<path d="M2187.7,564.1 L2199.6,586 L2196,591.6 L2183.2,593.2 L2172.7,596 L2171,598.2 L2168.3,596 L2168.3,593.8 L2172.7,587.2 L2181,572.2 L2184.3,567.2 Z" fill="#000" stroke="none"/>
<path d="M2146.1,634.8 L2164.9,602.2 L2168.5,603.9 L2164.1,612.8 L2168.5,624 L2171,624.3 L2171.6,628.7 L2173.2,627.6 L2173.2,611 L2175.2,609.3 L2177.1,612.1 L2181.6,612.4 L2181.6,614.9 L2178.8,624.3 L2184.9,616.5 L2188.8,616.3 L2217.9,633.3 L2217.9,634.8 Z" fill="#000" stroke="none"/>
<path d="M2191,612.1 L2194.9,604.9 L2204.8,599.3 L2207.1,599.9 L2221.8,629 L2220.1,629.6 L2193.2,614.3 Z" fill="#000" stroke="none"/>
<path d="M2174.1,612.6 L2175.7,611.3 L2176.3,619.9 L2174.4,622.6 Z" fill="#fafafa" stroke="none"/>
<path d="M2168.3,626 L2170,626 L2170,629.8 L2168.7,629.6 Z" fill="#fafafa" stroke="none"/>
<path d="M1702.7,1557.9 L1714.6,1579.8 L1711,1585.4 L1698.2,1587 L1687.7,1589.8 L1686,1592 L1683.3,1589.8 L1683.3,1587.6 L1687.7,1581 L1696,1566 L1699.3,1561 Z" fill="#000" stroke="none"/>
<path d="M1661.1,1628.6 L1679.9,1596 L1683.5,1597.7 L1679.1,1606.6 L1683.5,1617.8 L1686,1618.1 L1686.6,1622.5 L1688.2,1621.4 L1688.2,1604.8 L1690.2,1603.1 L1692.1,1605.9 L1696.6,1606.2 L1696.6,1608.7 L1693.8,1618.1 L1699.9,1610.3 L1703.8,1610.1 L1732.9,1627.1 L1732.9,1628.6 Z" fill="#000" stroke="none"/>
<path d="M1706,1605.9 L1709.9,1598.7 L1719.8,1593.1 L1722.1,1593.7 L1736.8,1622.8 L1735.1,1623.4 L1708.2,1608.1 Z" fill="#000" stroke="none"/>
<path d="M1689.1,1606.4 L1690.7,1605.1 L1691.3,1613.7 L1689.4,1616.4 Z" fill="#fafafa" stroke="none"/>
<path d="M1683.3,1619.8 L1685,1619.8 L1685,1623.6 L1683.7,1623.4 Z" fill="#fafafa" stroke="none"/>
<text x="42.3" y="1667.9" font-size="38" text-anchor="start" fill="#2349b1" stroke="#2349b1" stroke-width="0.9" textLength="260" lengthAdjust="spacingAndGlyphs">Pressauto.NET</text>
<g stroke="#dffcff" stroke-width="2" fill="none"><line x1="0" y1="1" x2="2404" y2="1"/><line x1="1" y1="0" x2="1" y2="1718"/><line x1="2402.5" y1="0" x2="2402.5" y2="1718"/><line x1="0" y1="1716" x2="2404" y2="1716"/></g>
</g></g></svg></body></html>
